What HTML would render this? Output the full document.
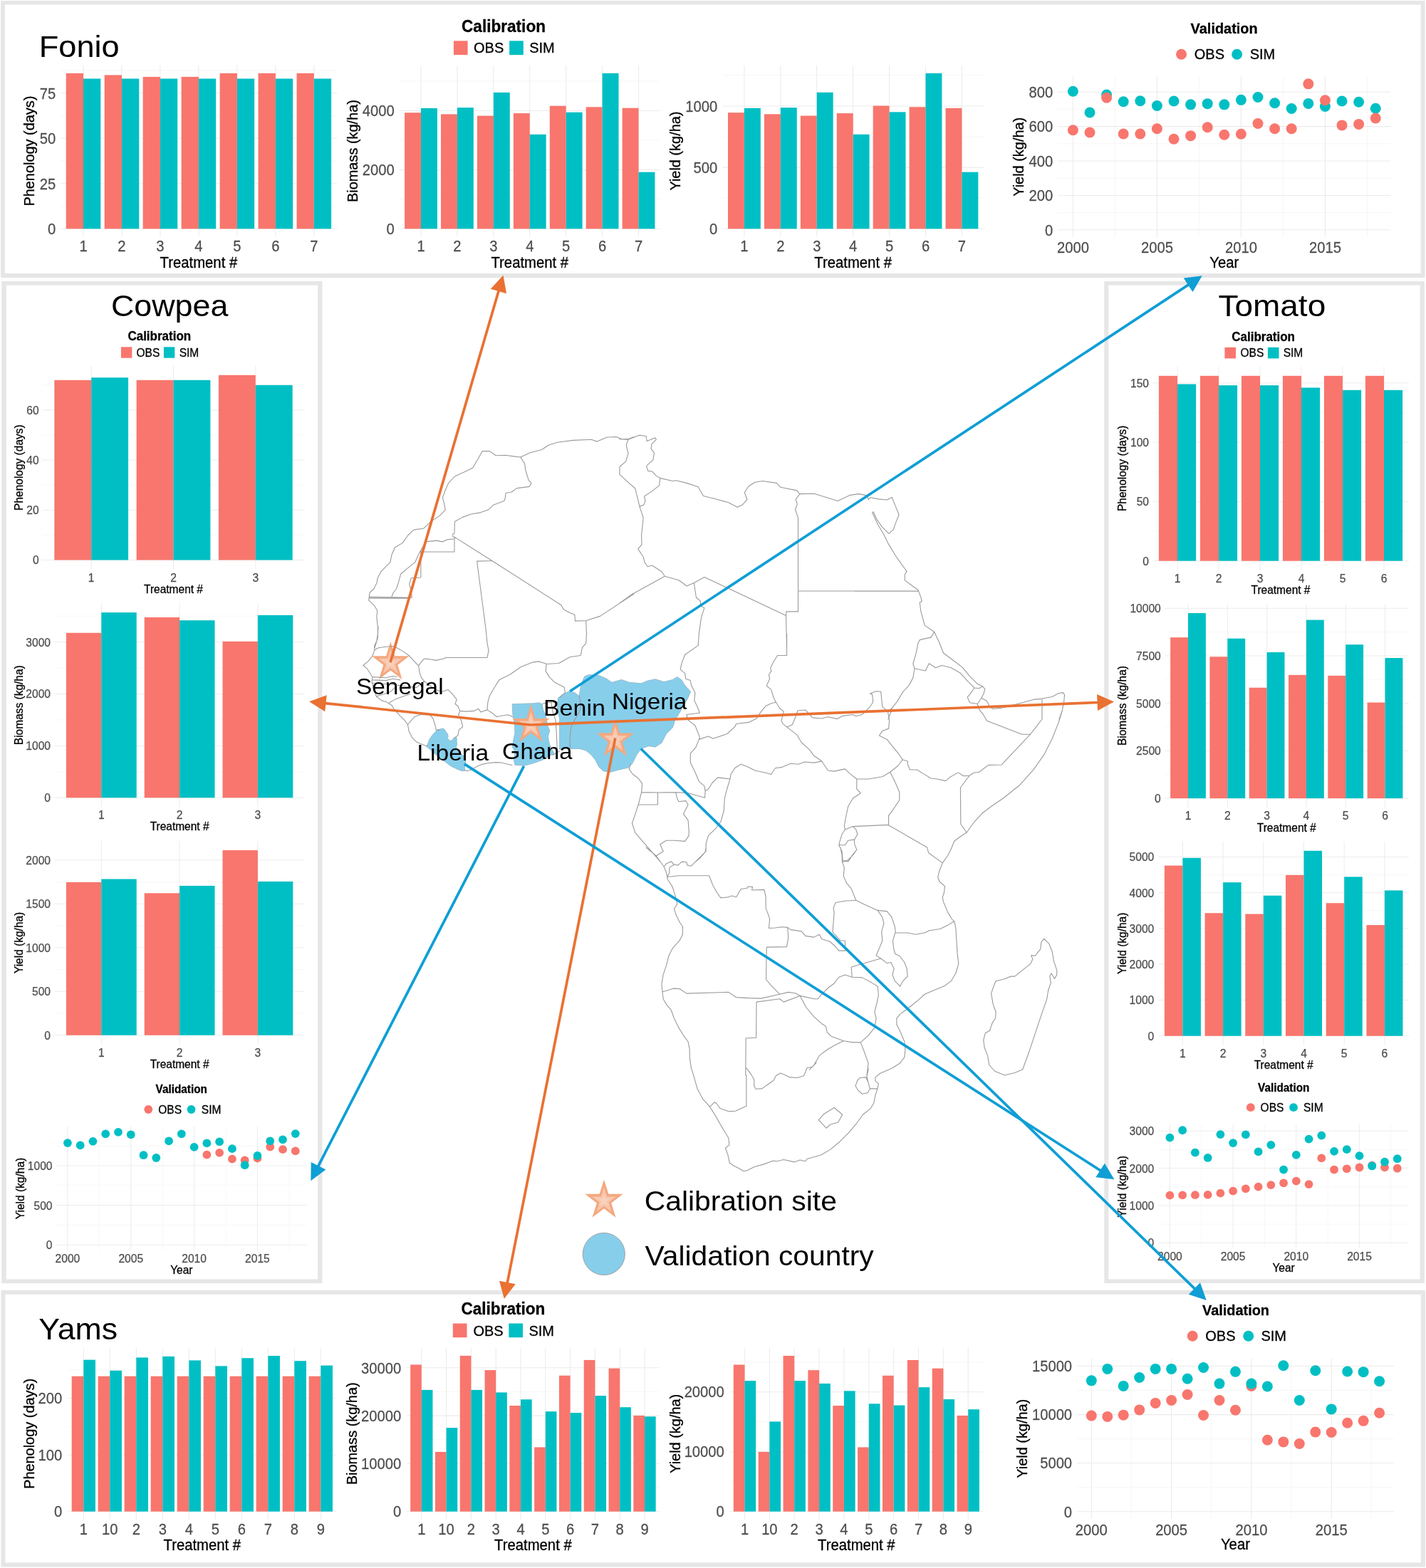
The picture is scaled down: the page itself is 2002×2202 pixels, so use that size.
<!DOCTYPE html>
<html lang="en">
<head>
<meta charset="utf-8">
<title>Crop model calibration and validation across Africa</title>
<style>
html,body{margin:0;padding:0;background:#fff}
body{width:2002px;height:2202px;overflow:hidden}
svg{display:block;font-family:'Liberation Sans', sans-serif}
.k{stroke:#000;stroke-width:.3px}
.g,.g .k{stroke:#4D4D4D;stroke-width:.25px}
</style>
</head>
<body>
<svg width="2002" height="2202" viewBox="0 0 2002 2202">
<path fill="#E7E6E6" fill-rule="evenodd" d="M1.1 1.1H2000.5V389.9H1.1ZM6.9 6.6H1994.6V384.1H6.9Z"/>
<path fill="#E7E6E6" fill-rule="evenodd" d="M2.2 395H452.4V1802.3H2.2ZM8.7 400.6H446.2V1796.5H8.7Z"/>
<path fill="#E7E6E6" fill-rule="evenodd" d="M1550.3 395H1999.9V1802.1H1550.3ZM1556.3 400.6H1993.6V1796.5H1556.3Z"/>
<path fill="#E7E6E6" fill-rule="evenodd" d="M1.5 1811.9H2000.9V2200.4H1.5ZM7.4 1817.8H1994.8V2194.5H7.4Z"/>
<text transform="translate(54.8 80) scale(1.06 1)" font-size="42.6">Fonio</text>
<text transform="translate(156 444) scale(1.037 1)" font-size="43.2">Cowpea</text>
<text transform="translate(1710.5 444) scale(1.064 1)" font-size="43.2">Tomato</text>
<text transform="translate(54.3 1881.3) scale(1.049 1)" font-size="42.6">Yams</text>
<g>
<path d="M84.62 289.55H473.2" stroke="#F2F2F2" stroke-width="0.63"/>
<path d="M84.62 226.05H473.2" stroke="#F2F2F2" stroke-width="0.63"/>
<path d="M84.62 162.55H473.2" stroke="#F2F2F2" stroke-width="0.63"/>
<path d="M84.62 99.05H473.2" stroke="#F2F2F2" stroke-width="0.63"/>
<path d="M84.62 321.3H473.2" stroke="#EBEBEB" stroke-width="1.05"/>
<path d="M84.62 257.8H473.2" stroke="#EBEBEB" stroke-width="1.05"/>
<path d="M84.62 194.3H473.2" stroke="#EBEBEB" stroke-width="1.05"/>
<path d="M84.62 130.8H473.2" stroke="#EBEBEB" stroke-width="1.05"/>
<path d="M117 91.94V332.22" stroke="#EBEBEB" stroke-width="1.05"/>
<path d="M170.97 91.94V332.22" stroke="#EBEBEB" stroke-width="1.05"/>
<path d="M224.94 91.94V332.22" stroke="#EBEBEB" stroke-width="1.05"/>
<path d="M278.91 91.94V332.22" stroke="#EBEBEB" stroke-width="1.05"/>
<path d="M332.88 91.94V332.22" stroke="#EBEBEB" stroke-width="1.05"/>
<path d="M386.85 91.94V332.22" stroke="#EBEBEB" stroke-width="1.05"/>
<path d="M440.82 91.94V332.22" stroke="#EBEBEB" stroke-width="1.05"/>
<rect x="92.71" y="102.86" width="24.29" height="218.44" fill="#F8766D"/>
<rect x="117" y="110.48" width="24.29" height="210.82" fill="#00BFC4"/>
<rect x="146.68" y="105.4" width="24.29" height="215.9" fill="#F8766D"/>
<rect x="170.97" y="110.48" width="24.29" height="210.82" fill="#00BFC4"/>
<rect x="200.65" y="107.94" width="24.29" height="213.36" fill="#F8766D"/>
<rect x="224.94" y="110.48" width="24.29" height="210.82" fill="#00BFC4"/>
<rect x="254.62" y="107.94" width="24.29" height="213.36" fill="#F8766D"/>
<rect x="278.91" y="110.48" width="24.29" height="210.82" fill="#00BFC4"/>
<rect x="308.59" y="102.86" width="24.29" height="218.44" fill="#F8766D"/>
<rect x="332.88" y="110.48" width="24.29" height="210.82" fill="#00BFC4"/>
<rect x="362.56" y="102.86" width="24.29" height="218.44" fill="#F8766D"/>
<rect x="386.85" y="110.48" width="24.29" height="210.82" fill="#00BFC4"/>
<rect x="416.53" y="102.86" width="24.29" height="218.44" fill="#F8766D"/>
<rect x="440.82" y="110.48" width="24.29" height="210.82" fill="#00BFC4"/>
</g>
<g fill="#4D4D4D" class="g">
<text transform="translate(78.3 329.02) scale(0.9259 1)" font-size="21.82" text-anchor="end" class="k">0</text>
<text transform="translate(78.3 265.52) scale(0.9259 1)" font-size="21.82" text-anchor="end" class="k">25</text>
<text transform="translate(78.3 202.02) scale(0.9259 1)" font-size="21.82" text-anchor="end" class="k">50</text>
<text transform="translate(78.3 138.52) scale(0.9259 1)" font-size="21.82" text-anchor="end" class="k">75</text>
<text transform="translate(117 353.22) scale(0.9259 1)" font-size="21.82" text-anchor="middle" class="k">1</text>
<text transform="translate(170.97 353.22) scale(0.9259 1)" font-size="21.82" text-anchor="middle" class="k">2</text>
<text transform="translate(224.94 353.22) scale(0.9259 1)" font-size="21.82" text-anchor="middle" class="k">3</text>
<text transform="translate(278.91 353.22) scale(0.9259 1)" font-size="21.82" text-anchor="middle" class="k">4</text>
<text transform="translate(332.88 353.22) scale(0.9259 1)" font-size="21.82" text-anchor="middle" class="k">5</text>
<text transform="translate(386.85 353.22) scale(0.9259 1)" font-size="21.82" text-anchor="middle" class="k">6</text>
<text transform="translate(440.82 353.22) scale(0.9259 1)" font-size="21.82" text-anchor="middle" class="k">7</text>
</g>
<text transform="translate(278.91 376.1) scale(0.9588 1)" font-size="21.17" text-anchor="middle" class="k">Treatment #</text>
<text transform="translate(48.2 212.08) rotate(-90) scale(0.992 1)" font-size="20.1" text-anchor="middle" class="k">Phenology (days)</text>
<g>
<path d="M560.45 279.85H927.07" stroke="#F2F2F2" stroke-width="0.63"/>
<path d="M560.45 196.95H927.07" stroke="#F2F2F2" stroke-width="0.63"/>
<path d="M560.45 114.05H927.07" stroke="#F2F2F2" stroke-width="0.63"/>
<path d="M560.45 321.3H927.07" stroke="#EBEBEB" stroke-width="1.05"/>
<path d="M560.45 238.4H927.07" stroke="#EBEBEB" stroke-width="1.05"/>
<path d="M560.45 155.5H927.07" stroke="#EBEBEB" stroke-width="1.05"/>
<path d="M591 91.94V332.22" stroke="#EBEBEB" stroke-width="1.05"/>
<path d="M641.92 91.94V332.22" stroke="#EBEBEB" stroke-width="1.05"/>
<path d="M692.84 91.94V332.22" stroke="#EBEBEB" stroke-width="1.05"/>
<path d="M743.76 91.94V332.22" stroke="#EBEBEB" stroke-width="1.05"/>
<path d="M794.68 91.94V332.22" stroke="#EBEBEB" stroke-width="1.05"/>
<path d="M845.6 91.94V332.22" stroke="#EBEBEB" stroke-width="1.05"/>
<path d="M896.52 91.94V332.22" stroke="#EBEBEB" stroke-width="1.05"/>
<rect x="568.09" y="158.24" width="22.91" height="163.06" fill="#F8766D"/>
<rect x="591" y="151.94" width="22.91" height="169.36" fill="#00BFC4"/>
<rect x="619.01" y="160.39" width="22.91" height="160.91" fill="#F8766D"/>
<rect x="641.92" y="151.15" width="22.91" height="170.15" fill="#00BFC4"/>
<rect x="669.93" y="162.59" width="22.91" height="158.71" fill="#F8766D"/>
<rect x="692.84" y="129.88" width="22.91" height="191.42" fill="#00BFC4"/>
<rect x="720.85" y="159.06" width="22.91" height="162.24" fill="#F8766D"/>
<rect x="743.76" y="188.78" width="22.91" height="132.52" fill="#00BFC4"/>
<rect x="771.77" y="148.7" width="22.91" height="172.6" fill="#F8766D"/>
<rect x="794.68" y="157.7" width="22.91" height="163.6" fill="#00BFC4"/>
<rect x="822.69" y="150.32" width="22.91" height="170.98" fill="#F8766D"/>
<rect x="845.6" y="102.86" width="22.91" height="218.44" fill="#00BFC4"/>
<rect x="873.61" y="151.69" width="22.91" height="169.61" fill="#F8766D"/>
<rect x="896.52" y="241.67" width="22.91" height="79.63" fill="#00BFC4"/>
</g>
<g fill="#4D4D4D" class="g">
<text transform="translate(553.7 329.02) scale(0.9259 1)" font-size="21.82" text-anchor="end" class="k">0</text>
<text transform="translate(553.7 246.12) scale(0.9259 1)" font-size="21.82" text-anchor="end" class="k">2000</text>
<text transform="translate(553.7 163.22) scale(0.9259 1)" font-size="21.82" text-anchor="end" class="k">4000</text>
<text transform="translate(591 353.22) scale(0.9259 1)" font-size="21.82" text-anchor="middle" class="k">1</text>
<text transform="translate(641.92 353.22) scale(0.9259 1)" font-size="21.82" text-anchor="middle" class="k">2</text>
<text transform="translate(692.84 353.22) scale(0.9259 1)" font-size="21.82" text-anchor="middle" class="k">3</text>
<text transform="translate(743.76 353.22) scale(0.9259 1)" font-size="21.82" text-anchor="middle" class="k">4</text>
<text transform="translate(794.68 353.22) scale(0.9259 1)" font-size="21.82" text-anchor="middle" class="k">5</text>
<text transform="translate(845.6 353.22) scale(0.9259 1)" font-size="21.82" text-anchor="middle" class="k">6</text>
<text transform="translate(896.52 353.22) scale(0.9259 1)" font-size="21.82" text-anchor="middle" class="k">7</text>
</g>
<text transform="translate(743.76 376.1) scale(0.9588 1)" font-size="21.17" text-anchor="middle" class="k">Treatment #</text>
<text transform="translate(501.5 212.08) rotate(-90) scale(0.992 1)" font-size="20.1" text-anchor="middle" class="k">Biomass (kg/ha)</text>
<g>
<path d="M1014.35 278.2H1380.97" stroke="#F2F2F2" stroke-width="0.63"/>
<path d="M1014.35 192H1380.97" stroke="#F2F2F2" stroke-width="0.63"/>
<path d="M1014.35 105.8H1380.97" stroke="#F2F2F2" stroke-width="0.63"/>
<path d="M1014.35 321.3H1380.97" stroke="#EBEBEB" stroke-width="1.05"/>
<path d="M1014.35 235.1H1380.97" stroke="#EBEBEB" stroke-width="1.05"/>
<path d="M1014.35 148.9H1380.97" stroke="#EBEBEB" stroke-width="1.05"/>
<path d="M1044.9 91.95V332.22" stroke="#EBEBEB" stroke-width="1.05"/>
<path d="M1095.82 91.95V332.22" stroke="#EBEBEB" stroke-width="1.05"/>
<path d="M1146.74 91.95V332.22" stroke="#EBEBEB" stroke-width="1.05"/>
<path d="M1197.66 91.95V332.22" stroke="#EBEBEB" stroke-width="1.05"/>
<path d="M1248.58 91.95V332.22" stroke="#EBEBEB" stroke-width="1.05"/>
<path d="M1299.5 91.95V332.22" stroke="#EBEBEB" stroke-width="1.05"/>
<path d="M1350.42 91.95V332.22" stroke="#EBEBEB" stroke-width="1.05"/>
<rect x="1021.99" y="158.21" width="22.91" height="163.09" fill="#F8766D"/>
<rect x="1044.9" y="151.83" width="22.91" height="169.47" fill="#00BFC4"/>
<rect x="1072.91" y="160.28" width="22.91" height="161.02" fill="#F8766D"/>
<rect x="1095.82" y="151.14" width="22.91" height="170.16" fill="#00BFC4"/>
<rect x="1123.83" y="162.52" width="22.91" height="158.78" fill="#F8766D"/>
<rect x="1146.74" y="129.76" width="22.91" height="191.54" fill="#00BFC4"/>
<rect x="1174.75" y="159.07" width="22.91" height="162.23" fill="#F8766D"/>
<rect x="1197.66" y="188.72" width="22.91" height="132.58" fill="#00BFC4"/>
<rect x="1225.67" y="148.56" width="22.91" height="172.74" fill="#F8766D"/>
<rect x="1248.58" y="157.35" width="22.91" height="163.95" fill="#00BFC4"/>
<rect x="1276.59" y="150.28" width="22.91" height="171.02" fill="#F8766D"/>
<rect x="1299.5" y="102.87" width="22.91" height="218.43" fill="#00BFC4"/>
<rect x="1327.51" y="151.83" width="22.91" height="169.47" fill="#F8766D"/>
<rect x="1350.42" y="241.65" width="22.91" height="79.65" fill="#00BFC4"/>
</g>
<g fill="#4D4D4D" class="g">
<text transform="translate(1007.3 329.02) scale(0.9259 1)" font-size="21.82" text-anchor="end" class="k">0</text>
<text transform="translate(1007.3 242.82) scale(0.9259 1)" font-size="21.82" text-anchor="end" class="k">500</text>
<text transform="translate(1007.3 156.62) scale(0.9259 1)" font-size="21.82" text-anchor="end" class="k">1000</text>
<text transform="translate(1044.9 353.22) scale(0.9259 1)" font-size="21.82" text-anchor="middle" class="k">1</text>
<text transform="translate(1095.82 353.22) scale(0.9259 1)" font-size="21.82" text-anchor="middle" class="k">2</text>
<text transform="translate(1146.74 353.22) scale(0.9259 1)" font-size="21.82" text-anchor="middle" class="k">3</text>
<text transform="translate(1197.66 353.22) scale(0.9259 1)" font-size="21.82" text-anchor="middle" class="k">4</text>
<text transform="translate(1248.58 353.22) scale(0.9259 1)" font-size="21.82" text-anchor="middle" class="k">5</text>
<text transform="translate(1299.5 353.22) scale(0.9259 1)" font-size="21.82" text-anchor="middle" class="k">6</text>
<text transform="translate(1350.42 353.22) scale(0.9259 1)" font-size="21.82" text-anchor="middle" class="k">7</text>
</g>
<text transform="translate(1197.66 376.1) scale(0.9588 1)" font-size="21.17" text-anchor="middle" class="k">Treatment #</text>
<text transform="translate(954.6 212.08) rotate(-90) scale(0.992 1)" font-size="20.1" text-anchor="middle" class="k">Yield (kg/ha)</text>
<text transform="translate(707 45) scale(0.9588 1)" font-size="23.57" text-anchor="middle" font-weight="bold" class="k">Calibration</text>
<rect x="636.9" y="57.4" width="19.7" height="19.7" fill="#F8766D"/>
<rect x="715.1" y="57.4" width="19.7" height="19.7" fill="#00BFC4"/>
<text transform="translate(665 74.43) scale(0.9588 1)" font-size="20.86" class="k">OBS</text>
<text transform="translate(743.2 74.43) scale(0.9588 1)" font-size="20.86" class="k">SIM</text>
<g>
<path d="M1485.16 298.6H1952.44" stroke="#F2F2F2" stroke-width="0.63"/>
<path d="M1485.16 250.2H1952.44" stroke="#F2F2F2" stroke-width="0.63"/>
<path d="M1485.16 201.8H1952.44" stroke="#F2F2F2" stroke-width="0.63"/>
<path d="M1485.16 153.4H1952.44" stroke="#F2F2F2" stroke-width="0.63"/>
<path d="M1565.4 107.58V333.05" stroke="#F2F2F2" stroke-width="0.63"/>
<path d="M1683.4 107.58V333.05" stroke="#F2F2F2" stroke-width="0.63"/>
<path d="M1801.4 107.58V333.05" stroke="#F2F2F2" stroke-width="0.63"/>
<path d="M1919.4 107.58V333.05" stroke="#F2F2F2" stroke-width="0.63"/>
<path d="M1485.16 322.8H1952.44" stroke="#EBEBEB" stroke-width="1.05"/>
<path d="M1485.16 274.4H1952.44" stroke="#EBEBEB" stroke-width="1.05"/>
<path d="M1485.16 226H1952.44" stroke="#EBEBEB" stroke-width="1.05"/>
<path d="M1485.16 177.6H1952.44" stroke="#EBEBEB" stroke-width="1.05"/>
<path d="M1485.16 129.2H1952.44" stroke="#EBEBEB" stroke-width="1.05"/>
<path d="M1506.4 107.58V333.05" stroke="#EBEBEB" stroke-width="1.05"/>
<path d="M1624.4 107.58V333.05" stroke="#EBEBEB" stroke-width="1.05"/>
<path d="M1742.4 107.58V333.05" stroke="#EBEBEB" stroke-width="1.05"/>
<path d="M1860.4 107.58V333.05" stroke="#EBEBEB" stroke-width="1.05"/>
</g>
<g fill="#00BFC4">
<circle cx="1506.4" cy="128.23" r="7.5"/>
<circle cx="1530" cy="158" r="7.5"/>
<circle cx="1553.6" cy="133.07" r="7.5"/>
<circle cx="1577.2" cy="142.75" r="7.5"/>
<circle cx="1600.8" cy="141.78" r="7.5"/>
<circle cx="1624.4" cy="148.56" r="7.5"/>
<circle cx="1648" cy="142.03" r="7.5"/>
<circle cx="1671.6" cy="146.87" r="7.5"/>
<circle cx="1695.2" cy="145.66" r="7.5"/>
<circle cx="1718.8" cy="146.87" r="7.5"/>
<circle cx="1742.4" cy="140.33" r="7.5"/>
<circle cx="1766" cy="136.46" r="7.5"/>
<circle cx="1789.6" cy="144.69" r="7.5"/>
<circle cx="1813.2" cy="152.43" r="7.5"/>
<circle cx="1836.8" cy="145.41" r="7.5"/>
<circle cx="1860.4" cy="149.53" r="7.5"/>
<circle cx="1884" cy="142.03" r="7.5"/>
<circle cx="1907.6" cy="143.24" r="7.5"/>
<circle cx="1931.2" cy="152.19" r="7.5"/>
</g>
<g fill="#F8766D">
<circle cx="1506.4" cy="182.68" r="7.5"/>
<circle cx="1530" cy="186.07" r="7.5"/>
<circle cx="1553.6" cy="137.19" r="7.5"/>
<circle cx="1577.2" cy="188.01" r="7.5"/>
<circle cx="1600.8" cy="188.01" r="7.5"/>
<circle cx="1624.4" cy="180.75" r="7.5"/>
<circle cx="1648" cy="195.27" r="7.5"/>
<circle cx="1671.6" cy="190.67" r="7.5"/>
<circle cx="1695.2" cy="178.81" r="7.5"/>
<circle cx="1718.8" cy="189.22" r="7.5"/>
<circle cx="1742.4" cy="188.25" r="7.5"/>
<circle cx="1766" cy="173.49" r="7.5"/>
<circle cx="1789.6" cy="180.75" r="7.5"/>
<circle cx="1813.2" cy="180.75" r="7.5"/>
<circle cx="1836.8" cy="117.83" r="7.5"/>
<circle cx="1860.4" cy="140.82" r="7.5"/>
<circle cx="1884" cy="175.91" r="7.5"/>
<circle cx="1907.6" cy="174.45" r="7.5"/>
<circle cx="1931.2" cy="165.98" r="7.5"/>
</g>
<g fill="#4D4D4D" class="g">
<text transform="translate(1478.2 330.52) scale(0.9259 1)" font-size="21.82" text-anchor="end" class="k">0</text>
<text transform="translate(1478.2 282.12) scale(0.9259 1)" font-size="21.82" text-anchor="end" class="k">200</text>
<text transform="translate(1478.2 233.72) scale(0.9259 1)" font-size="21.82" text-anchor="end" class="k">400</text>
<text transform="translate(1478.2 185.32) scale(0.9259 1)" font-size="21.82" text-anchor="end" class="k">600</text>
<text transform="translate(1478.2 136.92) scale(0.9259 1)" font-size="21.82" text-anchor="end" class="k">800</text>
<text transform="translate(1506.4 355.02) scale(0.9259 1)" font-size="21.82" text-anchor="middle" class="k">2000</text>
<text transform="translate(1624.4 355.02) scale(0.9259 1)" font-size="21.82" text-anchor="middle" class="k">2005</text>
<text transform="translate(1742.4 355.02) scale(0.9259 1)" font-size="21.82" text-anchor="middle" class="k">2010</text>
<text transform="translate(1860.4 355.02) scale(0.9259 1)" font-size="21.82" text-anchor="middle" class="k">2015</text>
</g>
<text transform="translate(1718.8 376.3) scale(0.9588 1)" font-size="21.17" text-anchor="middle" class="k">Year</text>
<text transform="translate(1437.1 220.31) rotate(-90) scale(0.992 1)" font-size="20.1" text-anchor="middle" class="k">Yield (kg/ha)</text>
<text transform="translate(1718.6 47) scale(0.9588 1)" font-size="20.76" text-anchor="middle" font-weight="bold" class="k">Validation</text>
<circle cx="1658.5" cy="76.2" r="7.5" fill="#F8766D"/>
<circle cx="1736.6" cy="76.2" r="7.5" fill="#00BFC4"/>
<text transform="translate(1676.8 83.38) scale(0.9588 1)" font-size="20.86" class="k">OBS</text>
<text transform="translate(1754.7 83.38) scale(0.9588 1)" font-size="20.86" class="k">SIM</text>
<g>
<path d="M95.1 2082.95H472.5" stroke="#F2F2F2" stroke-width="0.63"/>
<path d="M95.1 2003.45H472.5" stroke="#F2F2F2" stroke-width="0.63"/>
<path d="M95.1 1923.95H472.5" stroke="#F2F2F2" stroke-width="0.63"/>
<path d="M95.1 2122.7H472.5" stroke="#EBEBEB" stroke-width="1.05"/>
<path d="M95.1 2043.2H472.5" stroke="#EBEBEB" stroke-width="1.05"/>
<path d="M95.1 1963.7H472.5" stroke="#EBEBEB" stroke-width="1.05"/>
<path d="M117.3 1893.14V2133.63" stroke="#EBEBEB" stroke-width="1.05"/>
<path d="M154.3 1893.14V2133.63" stroke="#EBEBEB" stroke-width="1.05"/>
<path d="M191.3 1893.14V2133.63" stroke="#EBEBEB" stroke-width="1.05"/>
<path d="M228.3 1893.14V2133.63" stroke="#EBEBEB" stroke-width="1.05"/>
<path d="M265.3 1893.14V2133.63" stroke="#EBEBEB" stroke-width="1.05"/>
<path d="M302.3 1893.14V2133.63" stroke="#EBEBEB" stroke-width="1.05"/>
<path d="M339.3 1893.14V2133.63" stroke="#EBEBEB" stroke-width="1.05"/>
<path d="M376.3 1893.14V2133.63" stroke="#EBEBEB" stroke-width="1.05"/>
<path d="M413.3 1893.14V2133.63" stroke="#EBEBEB" stroke-width="1.05"/>
<path d="M450.3 1893.14V2133.63" stroke="#EBEBEB" stroke-width="1.05"/>
<rect x="100.65" y="1932.69" width="16.65" height="190" fill="#F8766D"/>
<rect x="117.3" y="1909.64" width="16.65" height="213.06" fill="#00BFC4"/>
<rect x="137.65" y="1932.69" width="16.65" height="190" fill="#F8766D"/>
<rect x="154.3" y="1924.74" width="16.65" height="197.96" fill="#00BFC4"/>
<rect x="174.65" y="1932.69" width="16.65" height="190" fill="#F8766D"/>
<rect x="191.3" y="1906.46" width="16.65" height="216.24" fill="#00BFC4"/>
<rect x="211.65" y="1932.69" width="16.65" height="190" fill="#F8766D"/>
<rect x="228.3" y="1904.87" width="16.65" height="217.83" fill="#00BFC4"/>
<rect x="248.65" y="1932.69" width="16.65" height="190" fill="#F8766D"/>
<rect x="265.3" y="1910.43" width="16.65" height="212.27" fill="#00BFC4"/>
<rect x="285.65" y="1932.69" width="16.65" height="190" fill="#F8766D"/>
<rect x="302.3" y="1918.38" width="16.65" height="204.31" fill="#00BFC4"/>
<rect x="322.65" y="1932.69" width="16.65" height="190" fill="#F8766D"/>
<rect x="339.3" y="1907.25" width="16.65" height="215.45" fill="#00BFC4"/>
<rect x="359.65" y="1932.69" width="16.65" height="190" fill="#F8766D"/>
<rect x="376.3" y="1904.07" width="16.65" height="218.62" fill="#00BFC4"/>
<rect x="396.65" y="1932.69" width="16.65" height="190" fill="#F8766D"/>
<rect x="413.3" y="1911.23" width="16.65" height="211.47" fill="#00BFC4"/>
<rect x="433.65" y="1932.69" width="16.65" height="190" fill="#F8766D"/>
<rect x="450.3" y="1917.59" width="16.65" height="205.11" fill="#00BFC4"/>
</g>
<g fill="#4D4D4D" class="g">
<text transform="translate(87.3 2130.42) scale(0.9259 1)" font-size="21.82" text-anchor="end" class="k">0</text>
<text transform="translate(87.3 2050.92) scale(0.9259 1)" font-size="21.82" text-anchor="end" class="k">100</text>
<text transform="translate(87.3 1971.42) scale(0.9259 1)" font-size="21.82" text-anchor="end" class="k">200</text>
<text transform="translate(117.3 2155.12) scale(0.9259 1)" font-size="21.82" text-anchor="middle" class="k">1</text>
<text transform="translate(154.3 2155.12) scale(0.9259 1)" font-size="21.82" text-anchor="middle" class="k">10</text>
<text transform="translate(191.3 2155.12) scale(0.9259 1)" font-size="21.82" text-anchor="middle" class="k">2</text>
<text transform="translate(228.3 2155.12) scale(0.9259 1)" font-size="21.82" text-anchor="middle" class="k">3</text>
<text transform="translate(265.3 2155.12) scale(0.9259 1)" font-size="21.82" text-anchor="middle" class="k">4</text>
<text transform="translate(302.3 2155.12) scale(0.9259 1)" font-size="21.82" text-anchor="middle" class="k">5</text>
<text transform="translate(339.3 2155.12) scale(0.9259 1)" font-size="21.82" text-anchor="middle" class="k">6</text>
<text transform="translate(376.3 2155.12) scale(0.9259 1)" font-size="21.82" text-anchor="middle" class="k">7</text>
<text transform="translate(413.3 2155.12) scale(0.9259 1)" font-size="21.82" text-anchor="middle" class="k">8</text>
<text transform="translate(450.3 2155.12) scale(0.9259 1)" font-size="21.82" text-anchor="middle" class="k">9</text>
</g>
<text transform="translate(283.8 2177.2) scale(0.9588 1)" font-size="21.17" text-anchor="middle" class="k">Treatment #</text>
<text transform="translate(48.2 2013.39) rotate(-90) scale(0.992 1)" font-size="20.1" text-anchor="middle" class="k">Phenology (days)</text>
<g>
<path d="M570.92 2089.05H925.88" stroke="#F2F2F2" stroke-width="0.63"/>
<path d="M570.92 2021.75H925.88" stroke="#F2F2F2" stroke-width="0.63"/>
<path d="M570.92 1954.45H925.88" stroke="#F2F2F2" stroke-width="0.63"/>
<path d="M570.92 2122.7H925.88" stroke="#EBEBEB" stroke-width="1.05"/>
<path d="M570.92 2055.4H925.88" stroke="#EBEBEB" stroke-width="1.05"/>
<path d="M570.92 1988.1H925.88" stroke="#EBEBEB" stroke-width="1.05"/>
<path d="M570.92 1920.8H925.88" stroke="#EBEBEB" stroke-width="1.05"/>
<path d="M591.8 1892.98V2133.64" stroke="#EBEBEB" stroke-width="1.05"/>
<path d="M626.6 1892.98V2133.64" stroke="#EBEBEB" stroke-width="1.05"/>
<path d="M661.4 1892.98V2133.64" stroke="#EBEBEB" stroke-width="1.05"/>
<path d="M696.2 1892.98V2133.64" stroke="#EBEBEB" stroke-width="1.05"/>
<path d="M731 1892.98V2133.64" stroke="#EBEBEB" stroke-width="1.05"/>
<path d="M765.8 1892.98V2133.64" stroke="#EBEBEB" stroke-width="1.05"/>
<path d="M800.6 1892.98V2133.64" stroke="#EBEBEB" stroke-width="1.05"/>
<path d="M835.4 1892.98V2133.64" stroke="#EBEBEB" stroke-width="1.05"/>
<path d="M870.2 1892.98V2133.64" stroke="#EBEBEB" stroke-width="1.05"/>
<path d="M905 1892.98V2133.64" stroke="#EBEBEB" stroke-width="1.05"/>
<rect x="576.14" y="1916.46" width="15.66" height="206.24" fill="#F8766D"/>
<rect x="591.8" y="1951.93" width="15.66" height="170.77" fill="#00BFC4"/>
<rect x="610.94" y="2038.95" width="15.66" height="83.75" fill="#F8766D"/>
<rect x="626.6" y="2005.12" width="15.66" height="117.58" fill="#00BFC4"/>
<rect x="645.74" y="1903.91" width="15.66" height="218.79" fill="#F8766D"/>
<rect x="661.4" y="1951.93" width="15.66" height="170.77" fill="#00BFC4"/>
<rect x="680.54" y="1924.1" width="15.66" height="198.6" fill="#F8766D"/>
<rect x="696.2" y="1955.47" width="15.66" height="167.23" fill="#00BFC4"/>
<rect x="715.34" y="1974.02" width="15.66" height="148.68" fill="#F8766D"/>
<rect x="731" y="1965.29" width="15.66" height="157.41" fill="#00BFC4"/>
<rect x="750.14" y="2032.4" width="15.66" height="90.3" fill="#F8766D"/>
<rect x="765.8" y="1982.21" width="15.66" height="140.49" fill="#00BFC4"/>
<rect x="784.94" y="1931.74" width="15.66" height="190.96" fill="#F8766D"/>
<rect x="800.6" y="1984.12" width="15.66" height="138.58" fill="#00BFC4"/>
<rect x="819.74" y="1909.92" width="15.66" height="212.78" fill="#F8766D"/>
<rect x="835.4" y="1960.11" width="15.66" height="162.59" fill="#00BFC4"/>
<rect x="854.54" y="1921.65" width="15.66" height="201.05" fill="#F8766D"/>
<rect x="870.2" y="1976.21" width="15.66" height="146.49" fill="#00BFC4"/>
<rect x="889.34" y="1987.94" width="15.66" height="134.76" fill="#F8766D"/>
<rect x="905" y="1989.3" width="15.66" height="133.4" fill="#00BFC4"/>
</g>
<g fill="#4D4D4D" class="g">
<text transform="translate(563.2 2130.42) scale(0.9259 1)" font-size="21.82" text-anchor="end" class="k">0</text>
<text transform="translate(563.2 2063.12) scale(0.9259 1)" font-size="21.82" text-anchor="end" class="k">10000</text>
<text transform="translate(563.2 1995.82) scale(0.9259 1)" font-size="21.82" text-anchor="end" class="k">20000</text>
<text transform="translate(563.2 1928.52) scale(0.9259 1)" font-size="21.82" text-anchor="end" class="k">30000</text>
<text transform="translate(591.8 2155.12) scale(0.9259 1)" font-size="21.82" text-anchor="middle" class="k">1</text>
<text transform="translate(626.6 2155.12) scale(0.9259 1)" font-size="21.82" text-anchor="middle" class="k">10</text>
<text transform="translate(661.4 2155.12) scale(0.9259 1)" font-size="21.82" text-anchor="middle" class="k">2</text>
<text transform="translate(696.2 2155.12) scale(0.9259 1)" font-size="21.82" text-anchor="middle" class="k">3</text>
<text transform="translate(731 2155.12) scale(0.9259 1)" font-size="21.82" text-anchor="middle" class="k">4</text>
<text transform="translate(765.8 2155.12) scale(0.9259 1)" font-size="21.82" text-anchor="middle" class="k">5</text>
<text transform="translate(800.6 2155.12) scale(0.9259 1)" font-size="21.82" text-anchor="middle" class="k">6</text>
<text transform="translate(835.4 2155.12) scale(0.9259 1)" font-size="21.82" text-anchor="middle" class="k">7</text>
<text transform="translate(870.2 2155.12) scale(0.9259 1)" font-size="21.82" text-anchor="middle" class="k">8</text>
<text transform="translate(905 2155.12) scale(0.9259 1)" font-size="21.82" text-anchor="middle" class="k">9</text>
</g>
<text transform="translate(748.4 2177.2) scale(0.9588 1)" font-size="21.17" text-anchor="middle" class="k">Treatment #</text>
<text transform="translate(500.9 2013.31) rotate(-90) scale(0.992 1)" font-size="20.1" text-anchor="middle" class="k">Biomass (kg/ha)</text>
<g>
<path d="M1024.58 2080.7H1380.16" stroke="#F2F2F2" stroke-width="0.63"/>
<path d="M1024.58 1996.7H1380.16" stroke="#F2F2F2" stroke-width="0.63"/>
<path d="M1024.58 1912.7H1380.16" stroke="#F2F2F2" stroke-width="0.63"/>
<path d="M1024.58 2122.7H1380.16" stroke="#EBEBEB" stroke-width="1.05"/>
<path d="M1024.58 2038.7H1380.16" stroke="#EBEBEB" stroke-width="1.05"/>
<path d="M1024.58 1954.7H1380.16" stroke="#EBEBEB" stroke-width="1.05"/>
<path d="M1045.5 1893.04V2133.64" stroke="#EBEBEB" stroke-width="1.05"/>
<path d="M1080.36 1893.04V2133.64" stroke="#EBEBEB" stroke-width="1.05"/>
<path d="M1115.22 1893.04V2133.64" stroke="#EBEBEB" stroke-width="1.05"/>
<path d="M1150.08 1893.04V2133.64" stroke="#EBEBEB" stroke-width="1.05"/>
<path d="M1184.94 1893.04V2133.64" stroke="#EBEBEB" stroke-width="1.05"/>
<path d="M1219.8 1893.04V2133.64" stroke="#EBEBEB" stroke-width="1.05"/>
<path d="M1254.66 1893.04V2133.64" stroke="#EBEBEB" stroke-width="1.05"/>
<path d="M1289.52 1893.04V2133.64" stroke="#EBEBEB" stroke-width="1.05"/>
<path d="M1324.38 1893.04V2133.64" stroke="#EBEBEB" stroke-width="1.05"/>
<path d="M1359.24 1893.04V2133.64" stroke="#EBEBEB" stroke-width="1.05"/>
<rect x="1029.81" y="1916.52" width="15.69" height="206.18" fill="#F8766D"/>
<rect x="1045.5" y="1939.15" width="15.69" height="183.55" fill="#00BFC4"/>
<rect x="1064.67" y="2038.97" width="15.69" height="83.73" fill="#F8766D"/>
<rect x="1080.36" y="1996.43" width="15.69" height="126.27" fill="#00BFC4"/>
<rect x="1099.53" y="1903.97" width="15.69" height="218.73" fill="#F8766D"/>
<rect x="1115.22" y="1939.15" width="15.69" height="183.55" fill="#00BFC4"/>
<rect x="1134.39" y="1924.16" width="15.69" height="198.54" fill="#F8766D"/>
<rect x="1150.08" y="1942.97" width="15.69" height="179.73" fill="#00BFC4"/>
<rect x="1169.25" y="1974.06" width="15.69" height="148.64" fill="#F8766D"/>
<rect x="1184.94" y="1953.34" width="15.69" height="169.36" fill="#00BFC4"/>
<rect x="1204.11" y="2032.43" width="15.69" height="90.27" fill="#F8766D"/>
<rect x="1219.8" y="1971.34" width="15.69" height="151.36" fill="#00BFC4"/>
<rect x="1238.97" y="1931.79" width="15.69" height="190.91" fill="#F8766D"/>
<rect x="1254.66" y="1973.52" width="15.69" height="149.18" fill="#00BFC4"/>
<rect x="1273.83" y="1909.97" width="15.69" height="212.73" fill="#F8766D"/>
<rect x="1289.52" y="1948.16" width="15.69" height="174.54" fill="#00BFC4"/>
<rect x="1308.69" y="1921.7" width="15.69" height="201" fill="#F8766D"/>
<rect x="1324.38" y="1965.07" width="15.69" height="157.63" fill="#00BFC4"/>
<rect x="1343.55" y="1987.97" width="15.69" height="134.73" fill="#F8766D"/>
<rect x="1359.24" y="1979.24" width="15.69" height="143.46" fill="#00BFC4"/>
</g>
<g fill="#4D4D4D" class="g">
<text transform="translate(1016.8 2130.42) scale(0.9259 1)" font-size="21.82" text-anchor="end" class="k">0</text>
<text transform="translate(1016.8 2046.42) scale(0.9259 1)" font-size="21.82" text-anchor="end" class="k">10000</text>
<text transform="translate(1016.8 1962.42) scale(0.9259 1)" font-size="21.82" text-anchor="end" class="k">20000</text>
<text transform="translate(1045.5 2155.12) scale(0.9259 1)" font-size="21.82" text-anchor="middle" class="k">1</text>
<text transform="translate(1080.36 2155.12) scale(0.9259 1)" font-size="21.82" text-anchor="middle" class="k">10</text>
<text transform="translate(1115.22 2155.12) scale(0.9259 1)" font-size="21.82" text-anchor="middle" class="k">2</text>
<text transform="translate(1150.08 2155.12) scale(0.9259 1)" font-size="21.82" text-anchor="middle" class="k">3</text>
<text transform="translate(1184.94 2155.12) scale(0.9259 1)" font-size="21.82" text-anchor="middle" class="k">4</text>
<text transform="translate(1219.8 2155.12) scale(0.9259 1)" font-size="21.82" text-anchor="middle" class="k">5</text>
<text transform="translate(1254.66 2155.12) scale(0.9259 1)" font-size="21.82" text-anchor="middle" class="k">6</text>
<text transform="translate(1289.52 2155.12) scale(0.9259 1)" font-size="21.82" text-anchor="middle" class="k">7</text>
<text transform="translate(1324.38 2155.12) scale(0.9259 1)" font-size="21.82" text-anchor="middle" class="k">8</text>
<text transform="translate(1359.24 2155.12) scale(0.9259 1)" font-size="21.82" text-anchor="middle" class="k">9</text>
</g>
<text transform="translate(1202.37 2177.2) scale(0.9588 1)" font-size="21.17" text-anchor="middle" class="k">Treatment #</text>
<text transform="translate(954.6 2013.34) rotate(-90) scale(0.992 1)" font-size="20.1" text-anchor="middle" class="k">Yield (kg/ha)</text>
<text transform="translate(706.4 1845.8) scale(0.9588 1)" font-size="23.57" text-anchor="middle" font-weight="bold" class="k">Calibration</text>
<rect x="635.8" y="1858.55" width="19.7" height="19.7" fill="#F8766D"/>
<rect x="714.3" y="1858.55" width="19.7" height="19.7" fill="#00BFC4"/>
<text transform="translate(664.4 1875.58) scale(0.9588 1)" font-size="20.86" class="k">OBS</text>
<text transform="translate(742.4 1875.58) scale(0.9588 1)" font-size="20.86" class="k">SIM</text>
<g>
<path d="M1512.09 2088.75H1956.79" stroke="#F2F2F2" stroke-width="0.63"/>
<path d="M1512.09 2020.65H1956.79" stroke="#F2F2F2" stroke-width="0.63"/>
<path d="M1512.09 1952.55H1956.79" stroke="#F2F2F2" stroke-width="0.63"/>
<path d="M1588.45 1907.56V2133.05" stroke="#F2F2F2" stroke-width="0.63"/>
<path d="M1700.75 1907.56V2133.05" stroke="#F2F2F2" stroke-width="0.63"/>
<path d="M1813.05 1907.56V2133.05" stroke="#F2F2F2" stroke-width="0.63"/>
<path d="M1925.35 1907.56V2133.05" stroke="#F2F2F2" stroke-width="0.63"/>
<path d="M1512.09 2122.8H1956.79" stroke="#EBEBEB" stroke-width="1.05"/>
<path d="M1512.09 2054.7H1956.79" stroke="#EBEBEB" stroke-width="1.05"/>
<path d="M1512.09 1986.6H1956.79" stroke="#EBEBEB" stroke-width="1.05"/>
<path d="M1512.09 1918.5H1956.79" stroke="#EBEBEB" stroke-width="1.05"/>
<path d="M1532.3 1907.56V2133.05" stroke="#EBEBEB" stroke-width="1.05"/>
<path d="M1644.6 1907.56V2133.05" stroke="#EBEBEB" stroke-width="1.05"/>
<path d="M1756.9 1907.56V2133.05" stroke="#EBEBEB" stroke-width="1.05"/>
<path d="M1869.2 1907.56V2133.05" stroke="#EBEBEB" stroke-width="1.05"/>
</g>
<g fill="#F8766D">
<circle cx="1532.3" cy="1988.11" r="7.5"/>
<circle cx="1554.76" cy="1989.42" r="7.5"/>
<circle cx="1577.22" cy="1987.13" r="7.5"/>
<circle cx="1599.68" cy="1979.9" r="7.5"/>
<circle cx="1622.14" cy="1970.38" r="7.5"/>
<circle cx="1644.6" cy="1966.43" r="7.5"/>
<circle cx="1667.06" cy="1958.54" r="7.5"/>
<circle cx="1689.52" cy="1987.46" r="7.5"/>
<circle cx="1711.98" cy="1966.43" r="7.5"/>
<circle cx="1734.44" cy="1980.23" r="7.5"/>
<circle cx="1756.9" cy="1946.39" r="7.5"/>
<circle cx="1779.36" cy="2022.27" r="7.5"/>
<circle cx="1801.82" cy="2024.9" r="7.5"/>
<circle cx="1824.28" cy="2027.53" r="7.5"/>
<circle cx="1846.74" cy="2011.1" r="7.5"/>
<circle cx="1869.2" cy="2011.43" r="7.5"/>
<circle cx="1891.66" cy="1998.3" r="7.5"/>
<circle cx="1914.12" cy="1995.34" r="7.5"/>
<circle cx="1936.58" cy="1984.18" r="7.5"/>
</g>
<g fill="#00BFC4">
<circle cx="1532.3" cy="1938.83" r="7.5"/>
<circle cx="1554.76" cy="1922.41" r="7.5"/>
<circle cx="1577.22" cy="1946.39" r="7.5"/>
<circle cx="1599.68" cy="1934.56" r="7.5"/>
<circle cx="1622.14" cy="1922.41" r="7.5"/>
<circle cx="1644.6" cy="1922.41" r="7.5"/>
<circle cx="1667.06" cy="1936.21" r="7.5"/>
<circle cx="1689.52" cy="1920.43" r="7.5"/>
<circle cx="1711.98" cy="1943.11" r="7.5"/>
<circle cx="1734.44" cy="1926.35" r="7.5"/>
<circle cx="1756.9" cy="1943.11" r="7.5"/>
<circle cx="1779.36" cy="1947.05" r="7.5"/>
<circle cx="1801.82" cy="1917.81" r="7.5"/>
<circle cx="1824.28" cy="1966.43" r="7.5"/>
<circle cx="1846.74" cy="1924.71" r="7.5"/>
<circle cx="1869.2" cy="1978.92" r="7.5"/>
<circle cx="1891.66" cy="1926.02" r="7.5"/>
<circle cx="1914.12" cy="1926.67" r="7.5"/>
<circle cx="1936.58" cy="1939.82" r="7.5"/>
</g>
<g fill="#4D4D4D" class="g">
<text transform="translate(1505.1 2130.52) scale(0.9259 1)" font-size="21.82" text-anchor="end" class="k">0</text>
<text transform="translate(1505.1 2062.42) scale(0.9259 1)" font-size="21.82" text-anchor="end" class="k">5000</text>
<text transform="translate(1505.1 1994.32) scale(0.9259 1)" font-size="21.82" text-anchor="end" class="k">10000</text>
<text transform="translate(1505.1 1926.22) scale(0.9259 1)" font-size="21.82" text-anchor="end" class="k">15000</text>
<text transform="translate(1532.3 2155.82) scale(0.9259 1)" font-size="21.82" text-anchor="middle" class="k">2000</text>
<text transform="translate(1644.6 2155.82) scale(0.9259 1)" font-size="21.82" text-anchor="middle" class="k">2005</text>
<text transform="translate(1756.9 2155.82) scale(0.9259 1)" font-size="21.82" text-anchor="middle" class="k">2010</text>
<text transform="translate(1869.2 2155.82) scale(0.9259 1)" font-size="21.82" text-anchor="middle" class="k">2015</text>
</g>
<text transform="translate(1734.44 2176) scale(0.9588 1)" font-size="21.17" text-anchor="middle" class="k">Year</text>
<text transform="translate(1441.8 2020.3) rotate(-90) scale(0.992 1)" font-size="20.1" text-anchor="middle" class="k">Yield (kg/ha)</text>
<text transform="translate(1735 1847.4) scale(0.9588 1)" font-size="20.76" text-anchor="middle" font-weight="bold" class="k">Validation</text>
<circle cx="1674.2" cy="1876.2" r="7.5" fill="#F8766D"/>
<circle cx="1752.7" cy="1876.2" r="7.5" fill="#00BFC4"/>
<text transform="translate(1692.3 1883.38) scale(0.9588 1)" font-size="20.86" class="k">OBS</text>
<text transform="translate(1770.4 1883.38) scale(0.9588 1)" font-size="20.86" class="k">SIM</text>
<g>
<path d="M59.02 751.4H427.98" stroke="#F2F2F2" stroke-width="0.57"/>
<path d="M59.02 681.2H427.98" stroke="#F2F2F2" stroke-width="0.57"/>
<path d="M59.02 611H427.98" stroke="#F2F2F2" stroke-width="0.57"/>
<path d="M59.02 540.8H427.98" stroke="#F2F2F2" stroke-width="0.57"/>
<path d="M59.02 786.5H427.98" stroke="#EBEBEB" stroke-width="0.95"/>
<path d="M59.02 716.3H427.98" stroke="#EBEBEB" stroke-width="0.95"/>
<path d="M59.02 646.1H427.98" stroke="#EBEBEB" stroke-width="0.95"/>
<path d="M59.02 575.9H427.98" stroke="#EBEBEB" stroke-width="0.95"/>
<path d="M128.2 513.77V799.49" stroke="#EBEBEB" stroke-width="0.95"/>
<path d="M243.5 513.77V799.49" stroke="#EBEBEB" stroke-width="0.95"/>
<path d="M358.8 513.77V799.49" stroke="#EBEBEB" stroke-width="0.95"/>
<rect x="76.31" y="533.78" width="51.88" height="252.72" fill="#F8766D"/>
<rect x="128.2" y="530.27" width="51.88" height="256.23" fill="#00BFC4"/>
<rect x="191.62" y="533.78" width="51.88" height="252.72" fill="#F8766D"/>
<rect x="243.5" y="533.78" width="51.88" height="252.72" fill="#00BFC4"/>
<rect x="306.91" y="526.76" width="51.88" height="259.74" fill="#F8766D"/>
<rect x="358.8" y="540.8" width="51.88" height="245.7" fill="#00BFC4"/>
</g>
<g fill="#4D4D4D" class="g">
<text x="54.7" y="792.42" font-size="15.6" text-anchor="end" class="k">0</text>
<text x="54.7" y="722.22" font-size="15.6" text-anchor="end" class="k">20</text>
<text x="54.7" y="652.02" font-size="15.6" text-anchor="end" class="k">40</text>
<text x="54.7" y="581.82" font-size="15.6" text-anchor="end" class="k">60</text>
<text x="128.2" y="816.72" font-size="15.6" text-anchor="middle" class="k">1</text>
<text x="243.5" y="816.72" font-size="15.6" text-anchor="middle" class="k">2</text>
<text x="358.8" y="816.72" font-size="15.6" text-anchor="middle" class="k">3</text>
</g>
<text transform="translate(243.5 832.9) scale(0.9588 1)" font-size="16.17" text-anchor="middle" class="k">Treatment #</text>
<text transform="translate(31.7 656.63) rotate(-90) scale(0.9588 1)" font-size="16.17" text-anchor="middle" class="k">Phenology (days)</text>
<text transform="translate(223.8 477.8) scale(0.9588 1)" font-size="17.73" text-anchor="middle" font-weight="bold" class="k">Calibration</text>
<rect x="169.9" y="487.3" width="15.4" height="15.4" fill="#F8766D"/>
<rect x="229.9" y="487.3" width="15.4" height="15.4" fill="#00BFC4"/>
<text transform="translate(191.5 500.56) scale(0.9588 1)" font-size="16.17" class="k">OBS</text>
<text transform="translate(251.7 500.56) scale(0.9588 1)" font-size="16.17" class="k">SIM</text>
<g>
<path d="M76.42 1083.85H427.78" stroke="#F2F2F2" stroke-width="0.57"/>
<path d="M76.42 1010.95H427.78" stroke="#F2F2F2" stroke-width="0.57"/>
<path d="M76.42 938.05H427.78" stroke="#F2F2F2" stroke-width="0.57"/>
<path d="M76.42 865.15H427.78" stroke="#F2F2F2" stroke-width="0.57"/>
<path d="M76.42 1120.3H427.78" stroke="#EBEBEB" stroke-width="0.95"/>
<path d="M76.42 1047.4H427.78" stroke="#EBEBEB" stroke-width="0.95"/>
<path d="M76.42 974.5H427.78" stroke="#EBEBEB" stroke-width="0.95"/>
<path d="M76.42 901.6H427.78" stroke="#EBEBEB" stroke-width="0.95"/>
<path d="M142.3 847.11V1133.31" stroke="#EBEBEB" stroke-width="0.95"/>
<path d="M252.1 847.11V1133.31" stroke="#EBEBEB" stroke-width="0.95"/>
<path d="M361.9 847.11V1133.31" stroke="#EBEBEB" stroke-width="0.95"/>
<rect x="92.89" y="888.77" width="49.41" height="231.53" fill="#F8766D"/>
<rect x="142.3" y="860.12" width="49.41" height="260.18" fill="#00BFC4"/>
<rect x="202.69" y="866.9" width="49.41" height="253.4" fill="#F8766D"/>
<rect x="252.1" y="871.2" width="49.41" height="249.1" fill="#00BFC4"/>
<rect x="312.49" y="900.8" width="49.41" height="219.5" fill="#F8766D"/>
<rect x="361.9" y="863.91" width="49.41" height="256.39" fill="#00BFC4"/>
</g>
<g fill="#4D4D4D" class="g">
<text x="71" y="1126.22" font-size="15.6" text-anchor="end" class="k">0</text>
<text x="71" y="1053.32" font-size="15.6" text-anchor="end" class="k">1000</text>
<text x="71" y="980.42" font-size="15.6" text-anchor="end" class="k">2000</text>
<text x="71" y="907.52" font-size="15.6" text-anchor="end" class="k">3000</text>
<text x="142.3" y="1150.12" font-size="15.6" text-anchor="middle" class="k">1</text>
<text x="252.1" y="1150.12" font-size="15.6" text-anchor="middle" class="k">2</text>
<text x="361.9" y="1150.12" font-size="15.6" text-anchor="middle" class="k">3</text>
</g>
<text transform="translate(252.1 1166.3) scale(0.9588 1)" font-size="16.17" text-anchor="middle" class="k">Treatment #</text>
<text transform="translate(31.7 990.21) rotate(-90) scale(0.9588 1)" font-size="16.17" text-anchor="middle" class="k">Biomass (kg/ha)</text>
<g>
<path d="M76.42 1423.05H427.78" stroke="#F2F2F2" stroke-width="0.57"/>
<path d="M76.42 1361.55H427.78" stroke="#F2F2F2" stroke-width="0.57"/>
<path d="M76.42 1300.05H427.78" stroke="#F2F2F2" stroke-width="0.57"/>
<path d="M76.42 1238.55H427.78" stroke="#F2F2F2" stroke-width="0.57"/>
<path d="M76.42 1453.8H427.78" stroke="#EBEBEB" stroke-width="0.95"/>
<path d="M76.42 1392.3H427.78" stroke="#EBEBEB" stroke-width="0.95"/>
<path d="M76.42 1330.8H427.78" stroke="#EBEBEB" stroke-width="0.95"/>
<path d="M76.42 1269.3H427.78" stroke="#EBEBEB" stroke-width="0.95"/>
<path d="M76.42 1207.8H427.78" stroke="#EBEBEB" stroke-width="0.95"/>
<path d="M142.3 1181.04V1466.79" stroke="#EBEBEB" stroke-width="0.95"/>
<path d="M252.1 1181.04V1466.79" stroke="#EBEBEB" stroke-width="0.95"/>
<path d="M361.9 1181.04V1466.79" stroke="#EBEBEB" stroke-width="0.95"/>
<rect x="92.89" y="1238.92" width="49.41" height="214.88" fill="#F8766D"/>
<rect x="142.3" y="1234.49" width="49.41" height="219.31" fill="#00BFC4"/>
<rect x="202.69" y="1254.29" width="49.41" height="199.51" fill="#F8766D"/>
<rect x="252.1" y="1243.96" width="49.41" height="209.84" fill="#00BFC4"/>
<rect x="312.49" y="1194.02" width="49.41" height="259.78" fill="#F8766D"/>
<rect x="361.9" y="1237.93" width="49.41" height="215.87" fill="#00BFC4"/>
</g>
<g fill="#4D4D4D" class="g">
<text x="71" y="1459.72" font-size="15.6" text-anchor="end" class="k">0</text>
<text x="71" y="1398.22" font-size="15.6" text-anchor="end" class="k">500</text>
<text x="71" y="1336.72" font-size="15.6" text-anchor="end" class="k">1000</text>
<text x="71" y="1275.22" font-size="15.6" text-anchor="end" class="k">1500</text>
<text x="71" y="1213.72" font-size="15.6" text-anchor="end" class="k">2000</text>
<text x="142.3" y="1483.62" font-size="15.6" text-anchor="middle" class="k">1</text>
<text x="252.1" y="1483.62" font-size="15.6" text-anchor="middle" class="k">2</text>
<text x="361.9" y="1483.62" font-size="15.6" text-anchor="middle" class="k">3</text>
</g>
<text transform="translate(252.1 1499.5) scale(0.9588 1)" font-size="16.17" text-anchor="middle" class="k">Treatment #</text>
<text transform="translate(31.7 1323.91) rotate(-90) scale(0.9588 1)" font-size="16.17" text-anchor="middle" class="k">Yield (kg/ha)</text>
<g>
<path d="M78.91 1720.4H430.75" stroke="#F2F2F2" stroke-width="0.57"/>
<path d="M78.91 1664.8H430.75" stroke="#F2F2F2" stroke-width="0.57"/>
<path d="M78.91 1609.2H430.75" stroke="#F2F2F2" stroke-width="0.57"/>
<path d="M139.32 1581.93V1756.12" stroke="#F2F2F2" stroke-width="0.57"/>
<path d="M228.18 1581.93V1756.12" stroke="#F2F2F2" stroke-width="0.57"/>
<path d="M317.02 1581.93V1756.12" stroke="#F2F2F2" stroke-width="0.57"/>
<path d="M405.88 1581.93V1756.12" stroke="#F2F2F2" stroke-width="0.57"/>
<path d="M78.91 1748.2H430.75" stroke="#EBEBEB" stroke-width="0.95"/>
<path d="M78.91 1692.6H430.75" stroke="#EBEBEB" stroke-width="0.95"/>
<path d="M78.91 1637H430.75" stroke="#EBEBEB" stroke-width="0.95"/>
<path d="M94.9 1581.93V1756.12" stroke="#EBEBEB" stroke-width="0.95"/>
<path d="M183.75 1581.93V1756.12" stroke="#EBEBEB" stroke-width="0.95"/>
<path d="M272.6 1581.93V1756.12" stroke="#EBEBEB" stroke-width="0.95"/>
<path d="M361.45 1581.93V1756.12" stroke="#EBEBEB" stroke-width="0.95"/>
</g>
<g fill="#F8766D">
<circle cx="290.37" cy="1621.65" r="5.9"/>
<circle cx="308.14" cy="1618.87" r="5.9"/>
<circle cx="325.91" cy="1627.66" r="5.9"/>
<circle cx="343.68" cy="1629.44" r="5.9"/>
<circle cx="361.45" cy="1626.66" r="5.9"/>
<circle cx="379.22" cy="1610.65" r="5.9"/>
<circle cx="396.99" cy="1614.2" r="5.9"/>
<circle cx="414.76" cy="1616.43" r="5.9"/>
</g>
<g fill="#00BFC4">
<circle cx="94.9" cy="1605.09" r="5.9"/>
<circle cx="112.67" cy="1608.42" r="5.9"/>
<circle cx="130.44" cy="1602.86" r="5.9"/>
<circle cx="148.21" cy="1592.3" r="5.9"/>
<circle cx="165.98" cy="1589.85" r="5.9"/>
<circle cx="183.75" cy="1593.3" r="5.9"/>
<circle cx="201.52" cy="1622.21" r="5.9"/>
<circle cx="219.29" cy="1625.99" r="5.9"/>
<circle cx="237.06" cy="1602.42" r="5.9"/>
<circle cx="254.83" cy="1592.3" r="5.9"/>
<circle cx="272.6" cy="1610.87" r="5.9"/>
<circle cx="290.37" cy="1605.42" r="5.9"/>
<circle cx="308.14" cy="1603.42" r="5.9"/>
<circle cx="325.91" cy="1613.2" r="5.9"/>
<circle cx="343.68" cy="1636.22" r="5.9"/>
<circle cx="361.45" cy="1622.99" r="5.9"/>
<circle cx="379.22" cy="1602.42" r="5.9"/>
<circle cx="396.99" cy="1600.3" r="5.9"/>
<circle cx="414.76" cy="1592.08" r="5.9"/>
</g>
<g fill="#4D4D4D" class="g">
<text x="73.5" y="1754.12" font-size="15.6" text-anchor="end" class="k">0</text>
<text x="73.5" y="1698.52" font-size="15.6" text-anchor="end" class="k">500</text>
<text x="73.5" y="1642.92" font-size="15.6" text-anchor="end" class="k">1000</text>
<text x="94.9" y="1773.42" font-size="15.6" text-anchor="middle" class="k">2000</text>
<text x="183.75" y="1773.42" font-size="15.6" text-anchor="middle" class="k">2005</text>
<text x="272.6" y="1773.42" font-size="15.6" text-anchor="middle" class="k">2010</text>
<text x="361.45" y="1773.42" font-size="15.6" text-anchor="middle" class="k">2015</text>
</g>
<text transform="translate(254.83 1789) scale(0.9588 1)" font-size="16.17" text-anchor="middle" class="k">Year</text>
<text transform="translate(34.2 1669.03) rotate(-90) scale(0.9588 1)" font-size="16.17" text-anchor="middle" class="k">Yield (kg/ha)</text>
<text transform="translate(254.7 1535.1) scale(0.9588 1)" font-size="15.96" text-anchor="middle" font-weight="bold" class="k">Validation</text>
<circle cx="208.3" cy="1558" r="5.9" fill="#F8766D"/>
<circle cx="268.5" cy="1558" r="5.9" fill="#00BFC4"/>
<text transform="translate(222.3 1563.56) scale(0.9588 1)" font-size="16.17" class="k">OBS</text>
<text transform="translate(282.8 1563.56) scale(0.9588 1)" font-size="16.17" class="k">SIM</text>
<g>
<path d="M1618.2 746.05H1977.8" stroke="#F2F2F2" stroke-width="0.57"/>
<path d="M1618.2 662.75H1977.8" stroke="#F2F2F2" stroke-width="0.57"/>
<path d="M1618.2 579.45H1977.8" stroke="#F2F2F2" stroke-width="0.57"/>
<path d="M1618.2 787.7H1977.8" stroke="#EBEBEB" stroke-width="0.95"/>
<path d="M1618.2 704.4H1977.8" stroke="#EBEBEB" stroke-width="0.95"/>
<path d="M1618.2 621.1H1977.8" stroke="#EBEBEB" stroke-width="0.95"/>
<path d="M1618.2 537.8H1977.8" stroke="#EBEBEB" stroke-width="0.95"/>
<path d="M1653 514.81V800.69" stroke="#EBEBEB" stroke-width="0.95"/>
<path d="M1711 514.81V800.69" stroke="#EBEBEB" stroke-width="0.95"/>
<path d="M1769 514.81V800.69" stroke="#EBEBEB" stroke-width="0.95"/>
<path d="M1827 514.81V800.69" stroke="#EBEBEB" stroke-width="0.95"/>
<path d="M1885 514.81V800.69" stroke="#EBEBEB" stroke-width="0.95"/>
<path d="M1943 514.81V800.69" stroke="#EBEBEB" stroke-width="0.95"/>
<rect x="1626.9" y="527.8" width="26.1" height="259.9" fill="#F8766D"/>
<rect x="1653" y="539.47" width="26.1" height="248.23" fill="#00BFC4"/>
<rect x="1684.9" y="527.8" width="26.1" height="259.9" fill="#F8766D"/>
<rect x="1711" y="541.13" width="26.1" height="246.57" fill="#00BFC4"/>
<rect x="1742.9" y="527.8" width="26.1" height="259.9" fill="#F8766D"/>
<rect x="1769" y="541.13" width="26.1" height="246.57" fill="#00BFC4"/>
<rect x="1800.9" y="527.8" width="26.1" height="259.9" fill="#F8766D"/>
<rect x="1827" y="544.46" width="26.1" height="243.24" fill="#00BFC4"/>
<rect x="1858.9" y="527.8" width="26.1" height="259.9" fill="#F8766D"/>
<rect x="1885" y="547.8" width="26.1" height="239.9" fill="#00BFC4"/>
<rect x="1916.9" y="527.8" width="26.1" height="259.9" fill="#F8766D"/>
<rect x="1943" y="547.8" width="26.1" height="239.9" fill="#00BFC4"/>
</g>
<g fill="#4D4D4D" class="g">
<text x="1613" y="793.62" font-size="15.6" text-anchor="end" class="k">0</text>
<text x="1613" y="710.32" font-size="15.6" text-anchor="end" class="k">50</text>
<text x="1613" y="627.02" font-size="15.6" text-anchor="end" class="k">100</text>
<text x="1613" y="543.72" font-size="15.6" text-anchor="end" class="k">150</text>
<text x="1653" y="817.52" font-size="15.6" text-anchor="middle" class="k">1</text>
<text x="1711" y="817.52" font-size="15.6" text-anchor="middle" class="k">2</text>
<text x="1769" y="817.52" font-size="15.6" text-anchor="middle" class="k">3</text>
<text x="1827" y="817.52" font-size="15.6" text-anchor="middle" class="k">4</text>
<text x="1885" y="817.52" font-size="15.6" text-anchor="middle" class="k">5</text>
<text x="1943" y="817.52" font-size="15.6" text-anchor="middle" class="k">6</text>
</g>
<text transform="translate(1798 833.7) scale(0.9588 1)" font-size="16.17" text-anchor="middle" class="k">Treatment #</text>
<text transform="translate(1581.1 657.75) rotate(-90) scale(0.9588 1)" font-size="16.17" text-anchor="middle" class="k">Phenology (days)</text>
<text transform="translate(1773.6 478.6) scale(0.9588 1)" font-size="17.73" text-anchor="middle" font-weight="bold" class="k">Calibration</text>
<rect x="1719.4" y="487.8" width="15.6" height="15.6" fill="#F8766D"/>
<rect x="1779.9" y="487.8" width="15.6" height="15.6" fill="#00BFC4"/>
<text transform="translate(1741.5 501.16) scale(0.9588 1)" font-size="16.17" class="k">OBS</text>
<text transform="translate(1801.7 501.16) scale(0.9588 1)" font-size="16.17" class="k">SIM</text>
<g>
<path d="M1634.82 1087.75H1977.68" stroke="#F2F2F2" stroke-width="0.57"/>
<path d="M1634.82 1021.05H1977.68" stroke="#F2F2F2" stroke-width="0.57"/>
<path d="M1634.82 954.35H1977.68" stroke="#F2F2F2" stroke-width="0.57"/>
<path d="M1634.82 887.65H1977.68" stroke="#F2F2F2" stroke-width="0.57"/>
<path d="M1634.82 1121.1H1977.68" stroke="#EBEBEB" stroke-width="0.95"/>
<path d="M1634.82 1054.4H1977.68" stroke="#EBEBEB" stroke-width="0.95"/>
<path d="M1634.82 987.7H1977.68" stroke="#EBEBEB" stroke-width="0.95"/>
<path d="M1634.82 921H1977.68" stroke="#EBEBEB" stroke-width="0.95"/>
<path d="M1634.82 854.3H1977.68" stroke="#EBEBEB" stroke-width="0.95"/>
<path d="M1668 848.02V1134.1" stroke="#EBEBEB" stroke-width="0.95"/>
<path d="M1723.3 848.02V1134.1" stroke="#EBEBEB" stroke-width="0.95"/>
<path d="M1778.6 848.02V1134.1" stroke="#EBEBEB" stroke-width="0.95"/>
<path d="M1833.9 848.02V1134.1" stroke="#EBEBEB" stroke-width="0.95"/>
<path d="M1889.2 848.02V1134.1" stroke="#EBEBEB" stroke-width="0.95"/>
<path d="M1944.5 848.02V1134.1" stroke="#EBEBEB" stroke-width="0.95"/>
<rect x="1643.12" y="895.17" width="24.88" height="225.93" fill="#F8766D"/>
<rect x="1668" y="861.02" width="24.88" height="260.08" fill="#00BFC4"/>
<rect x="1698.41" y="922.28" width="24.88" height="198.82" fill="#F8766D"/>
<rect x="1723.3" y="896.67" width="24.88" height="224.43" fill="#00BFC4"/>
<rect x="1753.71" y="965.72" width="24.88" height="155.38" fill="#F8766D"/>
<rect x="1778.6" y="916.01" width="24.88" height="205.09" fill="#00BFC4"/>
<rect x="1809.02" y="947.89" width="24.88" height="173.21" fill="#F8766D"/>
<rect x="1833.9" y="870.57" width="24.88" height="250.53" fill="#00BFC4"/>
<rect x="1864.32" y="948.88" width="24.88" height="172.22" fill="#F8766D"/>
<rect x="1889.2" y="905.21" width="24.88" height="215.89" fill="#00BFC4"/>
<rect x="1919.62" y="986.55" width="24.88" height="134.55" fill="#F8766D"/>
<rect x="1944.5" y="924.04" width="24.88" height="197.06" fill="#00BFC4"/>
</g>
<g fill="#4D4D4D" class="g">
<text x="1629.8" y="1127.02" font-size="15.6" text-anchor="end" class="k">0</text>
<text x="1629.8" y="1060.32" font-size="15.6" text-anchor="end" class="k">2500</text>
<text x="1629.8" y="993.62" font-size="15.6" text-anchor="end" class="k">5000</text>
<text x="1629.8" y="926.92" font-size="15.6" text-anchor="end" class="k">7500</text>
<text x="1629.8" y="860.22" font-size="15.6" text-anchor="end" class="k">10000</text>
<text x="1668" y="1150.92" font-size="15.6" text-anchor="middle" class="k">1</text>
<text x="1723.3" y="1150.92" font-size="15.6" text-anchor="middle" class="k">2</text>
<text x="1778.6" y="1150.92" font-size="15.6" text-anchor="middle" class="k">3</text>
<text x="1833.9" y="1150.92" font-size="15.6" text-anchor="middle" class="k">4</text>
<text x="1889.2" y="1150.92" font-size="15.6" text-anchor="middle" class="k">5</text>
<text x="1944.5" y="1150.92" font-size="15.6" text-anchor="middle" class="k">6</text>
</g>
<text transform="translate(1806.25 1167.5) scale(0.9588 1)" font-size="16.17" text-anchor="middle" class="k">Treatment #</text>
<text transform="translate(1581.1 991.06) rotate(-90) scale(0.9588 1)" font-size="16.17" text-anchor="middle" class="k">Biomass (kg/ha)</text>
<g>
<path d="M1626.38 1429.65H1977.92" stroke="#F2F2F2" stroke-width="0.57"/>
<path d="M1626.38 1379.35H1977.92" stroke="#F2F2F2" stroke-width="0.57"/>
<path d="M1626.38 1329.05H1977.92" stroke="#F2F2F2" stroke-width="0.57"/>
<path d="M1626.38 1278.75H1977.92" stroke="#F2F2F2" stroke-width="0.57"/>
<path d="M1626.38 1228.45H1977.92" stroke="#F2F2F2" stroke-width="0.57"/>
<path d="M1626.38 1454.8H1977.92" stroke="#EBEBEB" stroke-width="0.95"/>
<path d="M1626.38 1404.5H1977.92" stroke="#EBEBEB" stroke-width="0.95"/>
<path d="M1626.38 1354.2H1977.92" stroke="#EBEBEB" stroke-width="0.95"/>
<path d="M1626.38 1303.9H1977.92" stroke="#EBEBEB" stroke-width="0.95"/>
<path d="M1626.38 1253.6H1977.92" stroke="#EBEBEB" stroke-width="0.95"/>
<path d="M1626.38 1203.3H1977.92" stroke="#EBEBEB" stroke-width="0.95"/>
<path d="M1660.4 1181.8V1467.8" stroke="#EBEBEB" stroke-width="0.95"/>
<path d="M1717.1 1181.8V1467.8" stroke="#EBEBEB" stroke-width="0.95"/>
<path d="M1773.8 1181.8V1467.8" stroke="#EBEBEB" stroke-width="0.95"/>
<path d="M1830.5 1181.8V1467.8" stroke="#EBEBEB" stroke-width="0.95"/>
<path d="M1887.2 1181.8V1467.8" stroke="#EBEBEB" stroke-width="0.95"/>
<path d="M1943.9 1181.8V1467.8" stroke="#EBEBEB" stroke-width="0.95"/>
<rect x="1634.88" y="1215.57" width="25.52" height="239.23" fill="#F8766D"/>
<rect x="1660.4" y="1204.81" width="25.52" height="249.99" fill="#00BFC4"/>
<rect x="1691.59" y="1282.27" width="25.52" height="172.53" fill="#F8766D"/>
<rect x="1717.1" y="1239.16" width="25.52" height="215.64" fill="#00BFC4"/>
<rect x="1748.29" y="1283.53" width="25.52" height="171.27" fill="#F8766D"/>
<rect x="1773.8" y="1257.72" width="25.52" height="197.08" fill="#00BFC4"/>
<rect x="1804.98" y="1228.85" width="25.52" height="225.95" fill="#F8766D"/>
<rect x="1830.5" y="1194.8" width="25.52" height="260" fill="#00BFC4"/>
<rect x="1861.68" y="1268.24" width="25.52" height="186.56" fill="#F8766D"/>
<rect x="1887.2" y="1231.37" width="25.52" height="223.43" fill="#00BFC4"/>
<rect x="1918.38" y="1299.07" width="25.52" height="155.73" fill="#F8766D"/>
<rect x="1943.9" y="1250.43" width="25.52" height="204.37" fill="#00BFC4"/>
</g>
<g fill="#4D4D4D" class="g">
<text x="1620.3" y="1460.72" font-size="15.6" text-anchor="end" class="k">0</text>
<text x="1620.3" y="1410.42" font-size="15.6" text-anchor="end" class="k">1000</text>
<text x="1620.3" y="1360.12" font-size="15.6" text-anchor="end" class="k">2000</text>
<text x="1620.3" y="1309.82" font-size="15.6" text-anchor="end" class="k">3000</text>
<text x="1620.3" y="1259.52" font-size="15.6" text-anchor="end" class="k">4000</text>
<text x="1620.3" y="1209.22" font-size="15.6" text-anchor="end" class="k">5000</text>
<text x="1660.4" y="1484.62" font-size="15.6" text-anchor="middle" class="k">1</text>
<text x="1717.1" y="1484.62" font-size="15.6" text-anchor="middle" class="k">2</text>
<text x="1773.8" y="1484.62" font-size="15.6" text-anchor="middle" class="k">3</text>
<text x="1830.5" y="1484.62" font-size="15.6" text-anchor="middle" class="k">4</text>
<text x="1887.2" y="1484.62" font-size="15.6" text-anchor="middle" class="k">5</text>
<text x="1943.9" y="1484.62" font-size="15.6" text-anchor="middle" class="k">6</text>
</g>
<text transform="translate(1802.15 1501.2) scale(0.9588 1)" font-size="16.17" text-anchor="middle" class="k">Treatment #</text>
<text transform="translate(1581.1 1324.8) rotate(-90) scale(0.9588 1)" font-size="16.17" text-anchor="middle" class="k">Yield (kg/ha)</text>
<g>
<path d="M1626.43 1719.05H1977.69" stroke="#F2F2F2" stroke-width="0.57"/>
<path d="M1626.43 1666.75H1977.69" stroke="#F2F2F2" stroke-width="0.57"/>
<path d="M1626.43 1614.45H1977.69" stroke="#F2F2F2" stroke-width="0.57"/>
<path d="M1686.75 1579.36V1753.1" stroke="#F2F2F2" stroke-width="0.57"/>
<path d="M1775.45 1579.36V1753.1" stroke="#F2F2F2" stroke-width="0.57"/>
<path d="M1864.15 1579.36V1753.1" stroke="#F2F2F2" stroke-width="0.57"/>
<path d="M1952.85 1579.36V1753.1" stroke="#F2F2F2" stroke-width="0.57"/>
<path d="M1626.43 1745.2H1977.69" stroke="#EBEBEB" stroke-width="0.95"/>
<path d="M1626.43 1692.9H1977.69" stroke="#EBEBEB" stroke-width="0.95"/>
<path d="M1626.43 1640.6H1977.69" stroke="#EBEBEB" stroke-width="0.95"/>
<path d="M1626.43 1588.3H1977.69" stroke="#EBEBEB" stroke-width="0.95"/>
<path d="M1642.4 1579.36V1753.1" stroke="#EBEBEB" stroke-width="0.95"/>
<path d="M1731.1 1579.36V1753.1" stroke="#EBEBEB" stroke-width="0.95"/>
<path d="M1819.8 1579.36V1753.1" stroke="#EBEBEB" stroke-width="0.95"/>
<path d="M1908.5 1579.36V1753.1" stroke="#EBEBEB" stroke-width="0.95"/>
</g>
<g fill="#F8766D">
<circle cx="1642.4" cy="1678.67" r="5.9"/>
<circle cx="1660.14" cy="1678.41" r="5.9"/>
<circle cx="1677.88" cy="1678.15" r="5.9"/>
<circle cx="1695.62" cy="1677.89" r="5.9"/>
<circle cx="1713.36" cy="1675.64" r="5.9"/>
<circle cx="1731.1" cy="1672.66" r="5.9"/>
<circle cx="1748.84" cy="1669.37" r="5.9"/>
<circle cx="1766.58" cy="1666.59" r="5.9"/>
<circle cx="1784.32" cy="1664.08" r="5.9"/>
<circle cx="1802.06" cy="1661.36" r="5.9"/>
<circle cx="1819.8" cy="1658.59" r="5.9"/>
<circle cx="1837.54" cy="1663.09" r="5.9"/>
<circle cx="1855.28" cy="1626.43" r="5.9"/>
<circle cx="1873.02" cy="1642.54" r="5.9"/>
<circle cx="1890.76" cy="1641.28" r="5.9"/>
<circle cx="1908.5" cy="1639.5" r="5.9"/>
<circle cx="1926.24" cy="1636.73" r="5.9"/>
<circle cx="1943.98" cy="1639.24" r="5.9"/>
<circle cx="1961.72" cy="1640.76" r="5.9"/>
</g>
<g fill="#00BFC4">
<circle cx="1642.4" cy="1597.56" r="5.9"/>
<circle cx="1660.14" cy="1587.25" r="5.9"/>
<circle cx="1677.88" cy="1618.63" r="5.9"/>
<circle cx="1695.62" cy="1625.96" r="5.9"/>
<circle cx="1713.36" cy="1593.06" r="5.9"/>
<circle cx="1731.1" cy="1605.09" r="5.9"/>
<circle cx="1748.84" cy="1593.32" r="5.9"/>
<circle cx="1766.58" cy="1617.38" r="5.9"/>
<circle cx="1784.32" cy="1607.86" r="5.9"/>
<circle cx="1802.06" cy="1642.54" r="5.9"/>
<circle cx="1819.8" cy="1621.93" r="5.9"/>
<circle cx="1837.54" cy="1599.6" r="5.9"/>
<circle cx="1855.28" cy="1594.58" r="5.9"/>
<circle cx="1873.02" cy="1616.91" r="5.9"/>
<circle cx="1890.76" cy="1614.14" r="5.9"/>
<circle cx="1908.5" cy="1623.18" r="5.9"/>
<circle cx="1926.24" cy="1637.46" r="5.9"/>
<circle cx="1943.98" cy="1631.71" r="5.9"/>
<circle cx="1961.72" cy="1627.21" r="5.9"/>
</g>
<g fill="#4D4D4D" class="g">
<text x="1620.3" y="1751.12" font-size="15.6" text-anchor="end" class="k">0</text>
<text x="1620.3" y="1698.82" font-size="15.6" text-anchor="end" class="k">1000</text>
<text x="1620.3" y="1646.52" font-size="15.6" text-anchor="end" class="k">2000</text>
<text x="1620.3" y="1594.22" font-size="15.6" text-anchor="end" class="k">3000</text>
<text x="1642.4" y="1770.12" font-size="15.6" text-anchor="middle" class="k">2000</text>
<text x="1731.1" y="1770.12" font-size="15.6" text-anchor="middle" class="k">2005</text>
<text x="1819.8" y="1770.12" font-size="15.6" text-anchor="middle" class="k">2010</text>
<text x="1908.5" y="1770.12" font-size="15.6" text-anchor="middle" class="k">2015</text>
</g>
<text transform="translate(1802.06 1786) scale(0.9588 1)" font-size="16.17" text-anchor="middle" class="k">Year</text>
<text transform="translate(1581.1 1666.23) rotate(-90) scale(0.9588 1)" font-size="16.17" text-anchor="middle" class="k">Yield (kg/ha)</text>
<text transform="translate(1802.2 1532.6) scale(0.9588 1)" font-size="15.96" text-anchor="middle" font-weight="bold" class="k">Validation</text>
<circle cx="1755.8" cy="1555.2" r="5.9" fill="#F8766D"/>
<circle cx="1816" cy="1555.2" r="5.9" fill="#00BFC4"/>
<text transform="translate(1769.6 1560.76) scale(0.9588 1)" font-size="16.17" class="k">OBS</text>
<text transform="translate(1830 1560.76) scale(0.9588 1)" font-size="16.17" class="k">SIM</text>
<g fill="#87CEEB" stroke="#8FB4C4" stroke-width="0.8" stroke-linejoin="round">
<path d="M598.65 1048.13L601.32 1042.78L602.85 1038.2L606.67 1032.85L611.25 1027.5L614.31 1024.83L618.89 1023.68L621.95 1022.92L624.24 1024.45L626.15 1027.88L628.44 1030.56L629.21 1034.38L628.44 1036.67L630.35 1039.34L632.64 1040.49L634.94 1039.34L637.23 1035.91L639.52 1035.14L641.43 1036.67L641.05 1041.25L641.81 1045.07L640.28 1048.89L643.34 1055L646.39 1058.06L650.98 1061.88L653.27 1066.46L654.03 1070.28L652.51 1072.57L652.51 1082.12L649.45 1082.89L645.63 1081.74L638.75 1078.69L632.64 1075.63L626.53 1071.05L619.66 1065.7L612.78 1060.35L605.91 1054.24Z"/>
<path d="M719.1 988.81L727.5 988.51L738.19 988.05L748.88 987.75L756.52 986.83L761.11 988.81L762.63 997.22L765.69 1003.33L767.22 1009.44L768.74 1018.6L771.8 1026.24L769.51 1033.88L770.27 1039.99L771.8 1046.1L774.85 1052.21L777.91 1058.32L768.74 1062.91L761.11 1067.49L750.41 1071.31L742.77 1073.6L735.14 1075.13L722.91 1074.36L721.39 1067.49L722.91 1059.85L721.39 1052.21L719.1 1049.16L720.62 1039.99L722.91 1029.3L722.15 1015.55L719.86 1003.33Z"/>
<path d="M785.55 1052.21L785.55 1027.77L785.55 1009.44L782.49 995.69L783.26 980.41L791.66 974.3L799.3 970.48L806.94 972.77L813.05 977.36L814.57 968.19L816.1 960.55L820.68 949.86L826.79 947.57L840.54 948.33L851.24 952.91L858.88 958.26L872.62 954.44L883.32 958.26L900.12 959.79L909.29 955.97L919.98 953.68L932.2 957.5L944.42 954.44L950.53 950.62L956.65 954.44L961.23 962.08L969.63 971.25L965.81 980.41L959.7 991.11L953.59 1001.8L947.48 1012.49L944.42 1021.66L935.26 1030.82L929.15 1043.05L919.98 1049.16L910.82 1047.63L900.12 1051.45L894.01 1059.85L887.9 1072.07L881.79 1078.18L868.04 1081.24L857.35 1084.29L846.65 1082.77L840.54 1076.65L835.96 1067.49L829.85 1059.85L822.21 1053.74L813.05 1051.45L800.06 1051.45Z"/>
</g>
<path d="M548.3 900.9L554.51 921.22L574.6 921.22L558.35 933.78L564.55 954.1L548.3 941.54L532.05 954.1L538.25 933.78L522 921.22L542.09 921.22Z" fill="#F4A880"/>
<path d="M548.3 911.79L552.27 924.79L565.13 924.79L554.73 932.83L558.7 945.84L548.3 937.8L537.9 945.84L541.87 932.83L531.47 924.79L544.33 924.79Z" fill="#F7C7AE"/>
<path d="M548.3 921.89L550.16 927.98L556.19 927.98L551.31 931.75L553.18 937.85L548.3 934.08L543.42 937.85L545.29 931.75L540.41 927.98L546.44 927.98Z" fill="#F9D2BE"/>
<path d="M745.4 988.6L751.61 1008.92L771.7 1008.92L755.45 1021.48L761.65 1041.8L745.4 1029.24L729.15 1041.8L735.35 1021.48L719.1 1008.92L739.19 1008.92Z" fill="#F4A880"/>
<path d="M745.4 999.49L749.37 1012.49L762.23 1012.49L751.83 1020.53L755.8 1033.54L745.4 1025.5L735 1033.54L738.97 1020.53L728.57 1012.49L741.43 1012.49Z" fill="#F7C7AE"/>
<path d="M745.4 1009.59L747.26 1015.68L753.29 1015.68L748.41 1019.45L750.28 1025.55L745.4 1021.78L740.52 1025.55L742.39 1019.45L737.51 1015.68L743.54 1015.68Z" fill="#F9D2BE"/>
<path d="M863.8 1009.1L870.01 1029.42L890.1 1029.42L873.85 1041.98L880.05 1062.3L863.8 1049.74L847.55 1062.3L853.75 1041.98L837.5 1029.42L857.59 1029.42Z" fill="#F4A880"/>
<path d="M863.8 1019.99L867.77 1032.99L880.63 1032.99L870.23 1041.03L874.2 1054.04L863.8 1046L853.4 1054.04L857.37 1041.03L846.97 1032.99L859.83 1032.99Z" fill="#F7C7AE"/>
<path d="M863.8 1030.09L865.66 1036.18L871.69 1036.18L866.81 1039.95L868.68 1046.05L863.8 1042.28L858.92 1046.05L860.79 1039.95L855.91 1036.18L861.94 1036.18Z" fill="#F9D2BE"/>
<g fill="none" stroke="#9A9A9A" stroke-width="1.1" stroke-linejoin="round" stroke-linecap="round">
<path d="M526.01 909.91L530.37 895.51L530.37 880.23L528.84 867.14L529.72 857.32L524.92 849.68L517.71 843.14L519.02 832.23L524.92 826.77L529.28 818.04L529.93 812.59L534.74 802.77L542.37 795.13L547.83 789.67L550.01 778.76L554.38 768.94L565.29 762.39L572.92 751.48L581.22 743.85L594.31 742.32L605.66 731.84L616.57 724.86L625.3 716.13L623.55 706.75L621.37 699.11L624.86 689.29L629.66 678.38L638.39 669L651.48 663.1L663.49 657.21L671.12 644.56L677.02 633.64L687.49 633.64L696.22 639.75L709.31 639.32L721.31 640.85L730.7 641.94L744.23 635.83L760.59 631.46L770.41 624.92L782.42 621.21L804.24 618.37L830.43 617.28L838.06 620.11L852.25 614L865.34 613.57L872.98 616.84L882.8 616.19L890 613.57M730.7 641.94L736.59 651.1L737.68 659.83L742.05 674.02L745.97 678.38L743.14 683.4L725.68 685.58L718.04 691.04L709.97 692.56L709.31 699.11L707.79 703.48L692.95 708.93L686.4 715.48L674.4 719.84L661.3 722.02L649.3 726.39L638.39 732.5L637.95 749.3L635.77 749.74L635.77 753.67L637.95 754.1L637.95 775.05L590.82 775.05M550.01 837.68L552.19 832.23L556.56 826.77L559.39 818.04L562.67 806.04L570.74 799.06L582.74 789.67L587.11 779.42L590.82 772.87L594.31 766.76L599.11 760.65L613.3 759.12L620.93 760.87L628.57 757.59L636.64 756.94M590.82 772.87L590.82 811.06L577.29 811.71L574.67 820.22L577.29 830.04L578.38 839.21L519.02 838.34M518.37 840.08L572.49 840.08M637.95 754.1L690.76 787.49L787.87 849.68L791.15 855.79L799.87 860.59L806.86 863.21L807.51 872.16L822.79 871.51L842.43 865.4L890 833.97M690.76 787.49L669.6 788.15L672.21 808.22L681.6 880.02M822.79 871.51L823.44 890.05M870 616.62L882 617.28L897.28 611.17L907.1 612.48L908.19 619.46L919.75 614.66L921.28 617.28L914.74 623.82L914.08 630.37L918.45 635.83L916.92 645.65L907.53 654.38L909.72 661.36L915.83 662.01L921.28 668.12L926.74 671.4L944.2 675.54L949.65 674.67L963.84 678.38L980.2 683.84L987.4 696.49L1000.93 699.77L1022.76 705.66L1035.19 712.2L1042.39 708.93L1048.94 701.73L1045.23 691.47L1051.12 682.74L1059.85 677.29L1070.76 675.54L1090.4 678.38L1095.86 684.27L1118.77 688.85L1122.7 693.66L1142.78 693.22L1160.23 698.46L1176.16 703.48L1192.97 695.4L1206.06 693.66L1217.41 695.84L1219.15 701.73L1221.77 698.46L1233.34 700.86L1245.34 701.95L1252.32 698.46L1257.34 711.11L1262.14 722.68L1258.43 731.84L1254.07 743.85L1247.96 749.3L1238.79 740.57L1231.16 729.66L1226.14 718.75L1224.61 719.84L1232.25 736.21M882 617.28L879.17 624.92L882 636.92L878.73 647.83L870 655.47L870 666.38L882 677.29L891.82 686.02L897.93 711.11M926.74 671.4L925.65 681.65L914.74 690.38L904.48 696.93L906.01 703.48L903.82 708.93L897.93 711.11M897.93 711.11L903.17 727.48L900.55 751.48L900.99 764.58L895.75 771.12L903.17 782.03L904.92 789.67L909.28 795.78L915.39 794.04L928.92 802.77L933.28 809.31M933.28 809.31L887.46 834.41L870 847.06M933.28 809.31L952.92 814.77L964.27 823.06L974.31 818.48L988.93 810.4L1103.5 864.52M974.31 818.48L977.36 838.77L983.48 844.23L983.04 850.77L988.93 853.39L984.57 867.14L981.29 890.05M1103.5 864.52L1103.93 858.85L1120.52 858.85L1120.52 727.48L1116.59 715.48L1119.21 707.84L1117.24 701.29L1122.7 693.66M1120.52 830.04L1270 830.04M1103.5 864.52L1104.59 909.91M1232.73 736.92L1240.37 750.01L1246.92 763.1L1256.74 779.47L1266.56 793.66L1273.1 802.38L1270.27 806.75L1270.27 814.82L1281.83 823.55L1289.03 828.57L1292.74 838.39L1294.27 844.5L1291.22 846.03L1292.74 858.03L1298.2 878.11L1311.73 887.49L1318.93 902.77L1324.39 916.95L1337.48 926.77L1350.57 936.59L1361.48 949.68L1372.39 960.59L1379.38 963.87L1382.87 967.58L1381.12 973.69L1377.85 980.23L1385.49 984.6L1389.85 993.33L1394.22 995.51L1405.13 994.42L1418.22 991.15L1435.68 986.78L1450.95 982.42L1461.87 981.33L1477.14 978.49L1485.87 973.69L1492.42 972.6L1494.6 975.87L1493.51 986.78L1491.33 997.69L1486.96 1009.91M1200 830.1L1289.03 830.1M1311.73 887.49L1306.93 895.13L1291.65 898.4L1289.03 902.77L1286.2 916.95L1281.83 932.23L1284.02 938.77M1284.02 938.77L1299.29 942.05L1304.31 931.79L1313.48 937.68L1322.2 934.41L1335.3 937.68L1348.39 945.32L1359.3 957.32L1368.03 966.05L1374.58 966.7L1379.38 963.87M1368.03 966.05L1362.58 973.69L1358.21 979.14L1361.48 986.78L1372.39 988.53L1377.85 980.23M1284.02 938.77L1281.83 951.87L1275.94 962.78L1267.65 971.51L1260.01 984.6L1252.37 994.42L1249.1 1004.24L1246.92 1009.91M775.87 1060.21L785.69 1054.76M767.14 932.55L784.6 931.46L799.87 922.73L815.15 920.55L817.33 909.64L822.79 903.09L823.44 890M767.14 932.55L766.05 942.37L771.51 951.1L778.05 957.65L792.24 965.29L793.33 972.92L785.69 979.47M761.69 988.2L773.69 986.02L782.42 986.02M773.69 986.02L775.87 999.11L780.23 1012.2L781.33 1031.84L782.42 1054.76M530.94 880L530.48 889.17L528.96 899.86L525.44 907.5L525.9 912.84L522.84 921.25L516.73 928.88L509.86 934.23L515.21 938.81L519.79 945.69L522.84 951.04L522.08 956.38L524.37 967.08L528.19 977.77L535.83 983.88L541.94 985.41L550.34 990.75L552.63 995.34L561.8 1005.27L567.91 1011.38L572.49 1017.49L574.02 1026.65L578.6 1035.82L584.71 1041.93L595.41 1046.51L599.23 1048.04M525.9 912.84L531.25 909.79L541.94 908.26L551.11 907.5L557.22 909.79L566.38 915.14L574.02 920.48L581.66 928.88L587.77 935M587.77 935L590.82 930.41L595.41 925.07L603.05 925.83L612.21 927.36L622.91 925.07L625.96 923.54L684.01 923.54L686 913.61L684.01 902.91L681.72 880M587.77 935L588.99 944.16L591.59 951.8L595.41 956.38L603.05 962.49L610.68 967.84L619.85 971.66L629.02 968.6L635.13 974.71L641.24 982.35L638.95 988.46L642.77 991.52L645.82 998.39M522.84 950.58L541.94 951.8L551.11 949.51L557.22 950.58M522.84 954.85L541.94 955.62L551.11 953.33L561.8 954.85M522.08 959.44L535.83 960.2L551.11 960.97L569.44 964.02L584.71 965.55L595.41 956.38M528.19 977.77L538.88 974.71L548.05 971.66L554.16 965.55M546.52 986.94L554.16 982.35L566.38 977.77L575.55 974.71M645.82 998.39L654.99 999.16L665.68 998.39L671.79 995.34L674.85 999.92L684.01 996.87L684.78 986.94L687.07 977.77L693.18 967.08L700.82 954.85L716.09 947.22L731.37 936.52L746.65 930.41L755.81 928.88L766.5 931.94M684.01 996.87L690.12 1000.68L697.76 1006.79L703.87 1005.27L713.04 1003.74L719.91 1006.79M572.49 1017.49L581.66 1006.79L589.3 1003.74L603.05 1003.74L607.63 1008.32L610.68 1017.49L612.21 1025.13L616.79 1025.13M645.82 998.39L643.53 1003.74L647.35 1011.38L649.64 1020.54L644.29 1025.13L642.77 1032.77L638.95 1035.82M652.51 1082.12L656.33 1082.51L661.67 1080.98L669.31 1076.39L676.95 1073.34L684.59 1071.81L696.05 1070.66L703.69 1071.05L710.03 1072.57L718.97 1074.48M813.05 977.36L815.34 988.05L814.57 997.22L806.94 1010.97L801.59 1021.66L800.06 1036.94L800.06 1051.45M981.29 890L980.2 906.37L961.65 919.46L957.29 930.37L955.11 940.19L961.65 945.65L962.74 953.28L969.29 955.47L970.38 962.01L975.84 972.92L974.75 983.84L979.11 992.56L982.38 1001.29L963.84 1003.48M963.84 1003.48L966.02 1011.11L975.84 1018.75L982.38 1035.12L981.29 1038.39M981.29 1038.39L994.39 1034.03L1000.93 1037.3L1020.57 1030.75L1031.48 1020.93L1033.67 1016.57L1051.12 1014.39L1062.03 1008.93L1068.58 999.11L1075.13 991.47L1081.67 988.2L1089.31 986.02M1104.59 890L1104.59 920.55L1091.49 920.55L1086.04 929.28L1081.67 938.01L1082.77 942.37L1079.49 947.83L1080.58 953.28L1076.22 963.1L1082.77 968.56L1086.04 979.47L1089.31 986.02M1089.31 986.02L1094.77 994.75L1100.22 999.11L1096.95 1012.2L1099.13 1016.57L1104.59 1020.93M1104.59 1020.93L1112.23 1017.66L1116.59 1007.84L1119.86 998.02L1130.77 996.93L1140.59 1007.84L1153.69 1008.93L1162.42 1006.75L1175.51 1009.59L1182.06 1005.66L1197.33 1003.48L1201.7 1005.66L1210.43 1003.48L1221.34 992.56L1225.7 986.02L1224.61 975.11L1221.34 974.02L1230.07 970.74L1236.61 971.18L1237.7 981.65L1238.79 992.56L1246.43 999.11L1251.89 994.75M1246.43 999.11L1248.61 1012.2L1247.52 1023.12L1238.79 1026.39L1234.43 1032.94L1245.34 1038.39L1254.07 1049.3L1262.8 1060.21L1267.16 1066.76M1104.59 1020.93L1118.77 1031.84L1125.32 1042.76L1136.23 1052.58L1142.78 1061.3L1153.69 1068.94M1153.69 1068.94L1142.78 1071.12L1129.68 1070.03L1120.95 1073.31L1110.04 1072.21L1096.95 1077.67L1088.22 1078.76L1082.77 1087.49L1075.13 1085.31L1059.85 1082.03L1048.94 1076.58L1040.21 1073.31L1031.48 1078.76L1026.03 1087.49L1024.94 1094.04M981.29 1038.39L976.93 1049.3L969.29 1058.03L969.29 1071.12L975.84 1084.22L981.29 1097.31L988.93 1103.86L990.02 1110.4M1024.94 1094.04L1007.48 1091.85L999.84 1099.49L994.39 1108.22L990.02 1110.4M990.02 1110.4L989.59 1120.22L966.02 1113.68L948.56 1112.59L923.46 1113.02L900.55 1112.59M885.28 1073.31L883.09 1079.85L888.55 1087.49L896.19 1092.95L901.64 1100.58L900.55 1112.59L896.19 1130.04L891.82 1143.14L887.46 1156.23L891.82 1169.32L904.92 1184.6L920.19 1202.06L926.74 1209.91M923.46 1113.02L923.46 1130.04L896.19 1130.04M948.56 1112.59L950.74 1121.31L952.92 1125.68L962.74 1124.59L966.02 1130.04L959.47 1143.14L966.02 1151.87L967.11 1164.96L967.11 1173.69L961.65 1181.33L946.38 1180.23L935.47 1180.23L926.74 1185.69L931.1 1195.51L921.28 1202.06M1024.94 1094.04L1020.57 1108.22L1017.3 1121.31L1016.21 1138.77L1011.84 1154.05L1005.3 1162.78L994.39 1173.69L991.11 1184.6L991.11 1195.51L983.48 1204.24L976.93 1209.91M1153.69 1068.94L1162.42 1082.03L1171.15 1083.13L1186.42 1079.85L1192.97 1086.4L1202.79 1094.04M1202.79 1094.04L1219.15 1094.04L1238.79 1090.76L1249.71 1084.22L1260.62 1075.49L1267.16 1066.76M1202.79 1094.04L1202.79 1108.22L1208.24 1113.68L1197.33 1121.31L1190.79 1132.23L1187.51 1147.5L1185.33 1159.5L1186.42 1164.96M1249.71 1084.22L1256.25 1097.31L1262.8 1112.59L1262.8 1123.5L1254.07 1136.59L1247.52 1145.32L1247.52 1158.41M1186.42 1164.96L1197.33 1160.59L1247.52 1158.41M1186.42 1164.96L1182.06 1171.51L1178.78 1182.42L1177.69 1186.78L1186.42 1186.78L1190.79 1180.23L1199.51 1179.14L1203.88 1171.51L1201.7 1164.96L1197.33 1160.59M1177.69 1186.78L1182.06 1195.51L1183.15 1208.6L1190.79 1209.91M1199.51 1179.14L1199.51 1184.6L1202.79 1193.33L1197.33 1199.87L1190.79 1209.91M1491.33 998.01L1485.87 1015.47L1477.14 1037.29L1466.23 1059.11L1450.95 1080.93L1431.31 1102.76L1409.49 1120.21L1392.03 1132.21L1378.94 1142.03L1368.03 1154.04L1361.48 1162.77L1357.12 1169.31L1348.39 1174.77L1339.66 1181.31L1335.3 1192.23L1330.93 1200.95L1323.3 1211.87M1372.39 988.84L1374.58 995.83L1381.12 1004.56L1385.49 1012.19L1434.59 1031.18L1446.59 1031.18L1406.22 1073.95L1387.67 1074.39L1374.58 1084.21L1366.94 1085.3L1361.05 1089.23M1462.96 982.08L1462.96 1010.01L1446.59 1031.18M1361.05 1089.23L1348.39 1106.03L1348.83 1157.31L1357.12 1169.31M1361.05 1089.23L1352.76 1089.66L1345.12 1084.86L1333.12 1091.84L1327.66 1096.64L1315.66 1094.03L1306.93 1092.94L1296.02 1086.39L1287.29 1080.93L1277.47 1080.93L1274.2 1073.3L1274.2 1068.93L1266.56 1066.75M1246.92 1158.4L1301.47 1190.04L1303.66 1197.68L1323.3 1211.87M907.1 1190L921.28 1202L932.19 1217.28L935.47 1224.92L937.21 1234.74L944.2 1245.65L948.56 1259.83L950.74 1269.65L946.38 1276.2L949.65 1286.02L954.02 1294.75L958.38 1301.29L958.38 1312.2L954.02 1320.93L944.2 1331.84L938.74 1342.76L935.47 1355.85L931.1 1368.94L928.92 1382.03L930.01 1392.95L931.1 1402.77L935.47 1410.4L942.01 1418.04L946.38 1430.04L952.92 1443.14L959.47 1454.05L966.02 1462.78L968.2 1473.69L968.2 1484.6L970.38 1499.87L973.66 1509.91M932.19 1217.28L935.47 1212.91L942.01 1209.64L946.38 1214L939.83 1218.37L939.83 1226.01L937.21 1230.37M991.11 1190L990.02 1196.55L979.11 1207.46L970.38 1216.19L964.93 1215.1L963.84 1210.73L957.29 1210.08L951.83 1215.1L946.38 1214M937.21 1231.46L952.92 1229.72L995.48 1229.72L1000.93 1243.46L1006.39 1253.28L1011.84 1260.92L1022.76 1259.83L1027.12 1258.09L1033.67 1259.83L1040.21 1248.48L1048.94 1247.17L1050.03 1244.99L1056.58 1245.65L1055.49 1250.01L1072.95 1249.36L1075.13 1259.83L1075.13 1275.11L1078.4 1283.84L1080.58 1290.38L1079.49 1303.48L1088.22 1303.04L1096.95 1301.73L1105.68 1302.38M1105.68 1302.38L1106.77 1316.57L1104.59 1329.66L1076.22 1330.1L1075.56 1375.49L1082.77 1384.22L1094.77 1396.22M930.01 1392.95L945.29 1388.15L954.02 1388.58L963.84 1395.13L1022.76 1393.38L1033.67 1400.58L1051.12 1401.67L1068.58 1402.11L1094.77 1396.22L1106.77 1393.38L1116.59 1394.69L1123.14 1398.4L1100.22 1407.13L1094.77 1402.77L1062.03 1407.13L1061.6 1457.32L1047.2 1457.98L1046.76 1509.91M1105.68 1302.38L1110.04 1305.66L1125.32 1307.84L1130.77 1314.39L1142.78 1316.13L1150.41 1312.2L1153.69 1318.75L1164.6 1322.02L1171.15 1327.48L1177.69 1335.12L1186.86 1335.12L1186.42 1320.93L1179.87 1320.93L1168.96 1308.93L1171.15 1281.65L1170.05 1275.11L1173.33 1267.47L1186.42 1265.29L1201.7 1264.2M1179.87 1190L1182.06 1200.91L1182.49 1210.73L1185.33 1218.37L1184.24 1230.37L1188.6 1240.19L1195.15 1247.83L1201.7 1264.2M1182.49 1210.73L1190.79 1207.46L1197.33 1200.91L1202.79 1193.27M1201.7 1264.2L1214.79 1270.74L1232.25 1278.38L1245.34 1279.91L1251.89 1288.2L1256.25 1301.29L1257.34 1310.02M1232.25 1278.38L1238.79 1288.2L1240.98 1296.93L1237.7 1307.84L1238.79 1320.93L1234.43 1331.84L1230.07 1341.66L1236.61 1346.03L1245.34 1352.58L1250.8 1351.48L1255.16 1360.21L1252.98 1368.94L1256.25 1377.67L1263.89 1385.31M1236.61 1346.03L1195.15 1358.03L1196.24 1372.21L1186.42 1368.94L1177.69 1372.21L1171.15 1380.94L1162.42 1387.49L1152.6 1397.31L1148.23 1402.77L1142.78 1402.77L1123.14 1398.4M1196.24 1372.21L1210.43 1372.87L1223.52 1379.85L1232.25 1385.31L1233.34 1397.31L1231.16 1408.22L1227.88 1421.31L1230.07 1430.04L1227.88 1443.14L1219.15 1454.05L1208.24 1463.87M1123.14 1398.4L1131.87 1414.77L1142.78 1427.86L1153.69 1437.68L1159.14 1440.95L1161.33 1449.68L1166.78 1455.14L1184.24 1461.69L1197.33 1463.87L1208.24 1463.87L1213.7 1478.05L1219.15 1493.33L1216.97 1509.91M1184.24 1461.69L1171.15 1468.23L1160.23 1474.78L1150.41 1482.42L1142.78 1495.51L1136.67 1502.06M1323.3 1211.82L1318.93 1222.73L1316.75 1231.46L1318.93 1238.01L1326.57 1244.56L1325.48 1253.28L1323.3 1259.83L1324.39 1266.38L1330.93 1281.65L1336.39 1290.82L1339.66 1293.66L1341.84 1303.48L1342.94 1320.93L1344.03 1338.39L1345.77 1353.67L1341.84 1366.76L1335.3 1377.67L1326.57 1384.22L1313.48 1389.67L1298.2 1396.22L1287.29 1406.04L1276.38 1414.77L1263.28 1424.59L1258.92 1430.04L1258.92 1438.77L1264.38 1449.68L1269.83 1462.78L1270.92 1473.69L1269.83 1484.6L1263.28 1493.33M1339.66 1293.66L1330.93 1299.11L1320.02 1304.57L1304.75 1306.75L1298.2 1310.02L1285.11 1312.2L1274.2 1310.02L1256.74 1310.02M1256.74 1310.02L1253.46 1320.93L1254.56 1331.84L1256.74 1339.48L1263.28 1342.76L1269.83 1351.48L1273.1 1360.21L1274.2 1371.12L1267.65 1377.67L1263.28 1385.31M1465.79 1318.31L1472.78 1325.3L1477.14 1336.21L1479.32 1349.3L1483.69 1362.39L1483.69 1368.94L1480.41 1374.4L1476.05 1366.76L1473.87 1371.12L1475.4 1379.85L1471.69 1390.76L1469.5 1403.86L1461.87 1425.68L1453.14 1451.87L1444.41 1478.05L1435.68 1502.06L1424.77 1506.42L1410.58 1509.91L1396.4 1504.24L1388.76 1495.51L1386.58 1482.42L1382.21 1471.51L1380.69 1460.59L1383.31 1450.77L1389.42 1447.5L1393.13 1436.59L1397.49 1430.04L1398.15 1421.31L1394.22 1410.4L1391.6 1395.13L1395.31 1384.22L1398.15 1377.67L1409.49 1375.05L1419.31 1371.12L1424.77 1371.12L1435.68 1362.39L1446.59 1353.67L1449.86 1347.12L1447.68 1341.66L1453.14 1342.32L1460.77 1332.94L1461.87 1323.12L1465.79 1318.31M973.64 1509.86L979.1 1529.28L986.74 1543.46L996.56 1554.38L1004.2 1566.38L1012.92 1581.65L1022.74 1598.02L1023.84 1607.84L1018.38 1612.2L1021.65 1620.93L1024.27 1632.94L1030.38 1637.3L1036.93 1640.57L1043.48 1644.5L1048.93 1643.85L1058.75 1638.83L1071.84 1635.12L1084.94 1630.32L1091.48 1630.75L1100.21 1628.57L1115.49 1631.84L1123.13 1629.01L1130.76 1630.75L1132.95 1627.48L1152.59 1622.02L1165.68 1614.39L1178.77 1603.48L1191.87 1590.38L1202.78 1577.29L1211.51 1565.29L1222.42 1556.56L1226.78 1548.92L1228.96 1538.01L1232.24 1528.19L1233.33 1521.64L1228.96 1518.37L1228.96 1512.91L1235.51 1507.46L1252.97 1499.82L1263.22 1493.27M996.56 1554.38L1003.1 1547.83L1006.38 1550.01L1010.74 1556.56L1023.84 1560.92L1032.56 1560.27L1047.84 1553.28L1047.84 1509.86M1047.84 1499.82L1054.39 1508.55L1058.75 1516.19L1058.75 1524.92L1060.93 1529.28L1069.66 1528.84L1078.39 1522.73L1086.03 1517.28L1089.3 1510.73L1095.85 1507.02L1102.39 1509.64L1108.94 1512.91L1119.85 1513.57L1128.58 1510.73L1132.95 1499.82L1140.58 1498.29L1146.04 1492.18M1149.31 1572.92L1156.95 1564.2L1171.13 1555.47L1182.7 1565.29L1176.59 1576.2L1165.68 1579.03L1160.22 1584.27L1149.31 1572.92M1207.14 1513.57L1215.87 1512.91L1219.14 1520.55L1221.33 1529.28L1218.05 1534.74L1210.41 1536.26L1204.96 1531.46L1201.03 1524.92L1203.87 1517.28L1207.14 1513.57M1219.14 1500.91L1216.96 1511.82L1219.14 1520.55M1221.33 1528.84L1232.24 1528.84"/>
</g>
<path d="M548 930.3L700.21 408" stroke="#E97132" stroke-width="3.7" fill="none"/>
<path d="M706.5 386.4L711.06 412.21L688.79 405.72Z" fill="#E97132"/>
<path d="M745 1018L456.48 987.56" stroke="#E97132" stroke-width="3.7" fill="none"/>
<path d="M434.1 985.2L458.69 976.13L456.25 999.2Z" fill="#E97132"/>
<path d="M745 1018L1541.52 986.49" stroke="#E97132" stroke-width="3.7" fill="none"/>
<path d="M1564 985.6L1540.98 998.12L1540.06 974.94Z" fill="#E97132"/>
<path d="M863.8 1036.3L712.17 1801.93" stroke="#E97132" stroke-width="3.7" fill="none"/>
<path d="M707.8 1824L700.99 1798.69L723.74 1803.2Z" fill="#E97132"/>
<path d="M800.2 970.8L1668.9 399.66" stroke="#0F9ED5" stroke-width="3.7" fill="none"/>
<path d="M1687.7 387.3L1674.44 409.9L1661.69 390.52Z" fill="#0F9ED5"/>
<path d="M735.5 1075.9L446.58 1638.19" stroke="#0F9ED5" stroke-width="3.7" fill="none"/>
<path d="M436.3 1658.2L436.72 1632L457.36 1642.6Z" fill="#0F9ED5"/>
<path d="M651.9 1072.9L1545.44 1644.08" stroke="#0F9ED5" stroke-width="3.7" fill="none"/>
<path d="M1564.4 1656.2L1538.35 1653.32L1550.85 1633.77Z" fill="#0F9ED5"/>
<path d="M899.8 1051.5L1677.59 1810.19" stroke="#0F9ED5" stroke-width="3.7" fill="none"/>
<path d="M1693.7 1825.9L1668.78 1817.79L1684.98 1801.19Z" fill="#0F9ED5"/>
<text transform="translate(500 974.7) scale(1.061 1)" font-size="31.5">Senegal</text>
<text transform="translate(762.9 1005.2) scale(1.08 1)" font-size="31.5">Benin</text>
<text transform="translate(858.9 995.7) scale(1.057 1)" font-size="31.5">Nigeria</text>
<text transform="translate(585.4 1067.7) scale(1.065 1)" font-size="31.5">Liberia</text>
<text transform="translate(705.1 1066.2) scale(1.041 1)" font-size="31.5">Ghana</text>
<path d="M848 1656.5L854.3 1676.82L874.7 1676.82L858.2 1689.38L864.5 1709.7L848 1697.14L831.5 1709.7L837.8 1689.38L821.3 1676.82L841.7 1676.82Z" fill="#F4A880"/>
<path d="M848 1667.39L852.03 1680.39L865.09 1680.39L854.53 1688.43L858.56 1701.44L848 1693.4L837.44 1701.44L841.47 1688.43L830.91 1680.39L843.97 1680.39Z" fill="#F7C7AE"/>
<path d="M848 1677.49L849.89 1683.58L856.01 1683.58L851.06 1687.35L852.95 1693.45L848 1689.68L843.05 1693.45L844.94 1687.35L839.99 1683.58L846.11 1683.58Z" fill="#F9D2BE"/>
<circle cx="847.8" cy="1761" r="29.6" fill="#87CEEB" stroke="#9A9A9A" stroke-width="0.9"/>
<text transform="translate(904.7 1699.8) scale(1.053 1)" font-size="38.8">Calibration site</text>
<text transform="translate(905.6 1776.8) scale(1.051 1)" font-size="38.8">Validation country</text>
</svg>
</body>
</html>
